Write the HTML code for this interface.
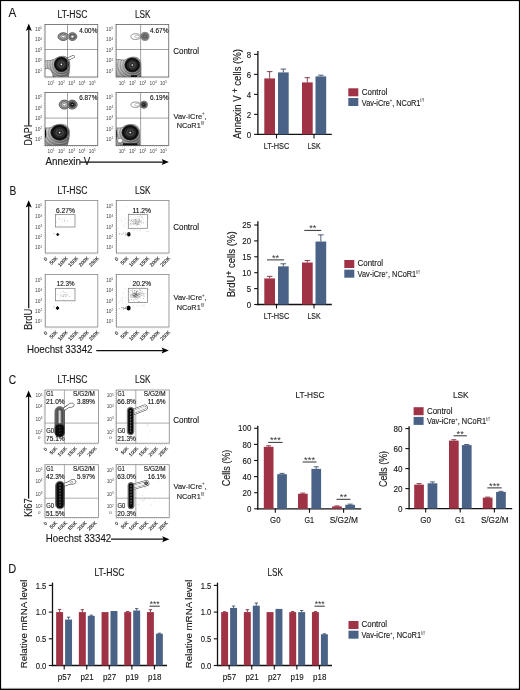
<!DOCTYPE html>
<html lang="en"><head><meta charset="utf-8"><title>Figure</title>
<style>html,body{margin:0;padding:0;background:#fff}svg{display:block;will-change:transform}text{stroke:#1a1718;stroke-width:.13px}text.l,tspan.l{stroke:none}</style></head><body>
<svg width="520" height="690" viewBox="0 0 520 690" font-family='"Liberation Sans", "DejaVu Sans", sans-serif'>
<rect x="0" y="0" width="520" height="690" fill="#fff"/>
<text x="8.6" y="17" font-size="12.5" textLength="7.8" lengthAdjust="spacingAndGlyphs" fill="#1a1718">A</text>
<text x="9.5" y="195" font-size="12.5" textLength="6.8" lengthAdjust="spacingAndGlyphs" fill="#1a1718">B</text>
<text x="8.8" y="383.6" font-size="12.5" textLength="7.4" lengthAdjust="spacingAndGlyphs" fill="#1a1718">C</text>
<text x="8.2" y="573" font-size="12.5" textLength="8.0" lengthAdjust="spacingAndGlyphs" fill="#1a1718">D</text>
<g id="panelA">
<text x="72.5" y="18.4" font-size="10" text-anchor="middle" textLength="30" lengthAdjust="spacingAndGlyphs" fill="#1a1718">LT-HSC</text>
<text x="142.7" y="18.4" font-size="10" text-anchor="middle" textLength="15.5" lengthAdjust="spacingAndGlyphs" fill="#1a1718">LSK</text>
<defs>
<clipPath id="ca00"><rect x="45" y="24.4" width="52.75" height="52.6"/></clipPath>
<clipPath id="ca01"><rect x="45" y="92.5" width="52.75" height="53.0"/></clipPath>
<clipPath id="ca10"><rect x="116.1" y="24.4" width="52.650000000000006" height="52.6"/></clipPath>
<clipPath id="ca11"><rect x="116.1" y="92.5" width="52.650000000000006" height="53.0"/></clipPath>
</defs>
<rect x="45.00" y="24.40" width="52.75" height="52.60" fill="#fff" stroke="#606060" stroke-width="0.8"/>
<line x1="44.1" y1="24.4" x2="44.1" y2="77" stroke="#a5a5a5" stroke-width="1.0" stroke-dasharray="0.5 1.6"/>
<line x1="45" y1="77.9" x2="97.75" y2="77.9" stroke="#a5a5a5" stroke-width="1.0" stroke-dasharray="0.5 1.6"/>
<text x="35" y="30.9" font-size="4.6" textLength="7" lengthAdjust="spacingAndGlyphs" fill="#444" class="l">10<tspan font-size="2.9" dy="-1.7">5</tspan></text>
<text x="35" y="41.400000000000006" font-size="4.6" textLength="7" lengthAdjust="spacingAndGlyphs" fill="#444" class="l">10<tspan font-size="2.9" dy="-1.7">4</tspan></text>
<text x="35" y="51.900000000000006" font-size="4.6" textLength="7" lengthAdjust="spacingAndGlyphs" fill="#444" class="l">10<tspan font-size="2.9" dy="-1.7">3</tspan></text>
<text x="35" y="62.400000000000006" font-size="4.6" textLength="7" lengthAdjust="spacingAndGlyphs" fill="#444" class="l">10<tspan font-size="2.9" dy="-1.7">2</tspan></text>
<text x="35" y="72.9" font-size="4.6" textLength="7" lengthAdjust="spacingAndGlyphs" fill="#444" class="l">10<tspan font-size="2.9" dy="-1.7">1</tspan></text>
<text x="47.6" y="84.60000000000001" font-size="4.6" textLength="7" lengthAdjust="spacingAndGlyphs" fill="#444" class="l">10<tspan font-size="2.9" dy="-1.7">1</tspan></text>
<text x="57.9" y="84.60000000000001" font-size="4.6" textLength="7" lengthAdjust="spacingAndGlyphs" fill="#444" class="l">10<tspan font-size="2.9" dy="-1.7">2</tspan></text>
<text x="68.19999999999999" y="84.60000000000001" font-size="4.6" textLength="7" lengthAdjust="spacingAndGlyphs" fill="#444" class="l">10<tspan font-size="2.9" dy="-1.7">3</tspan></text>
<text x="78.5" y="84.60000000000001" font-size="4.6" textLength="7" lengthAdjust="spacingAndGlyphs" fill="#444" class="l">10<tspan font-size="2.9" dy="-1.7">4</tspan></text>
<text x="88.8" y="84.60000000000001" font-size="4.6" textLength="7" lengthAdjust="spacingAndGlyphs" fill="#444" class="l">10<tspan font-size="2.9" dy="-1.7">5</tspan></text>
<rect x="45.00" y="92.50" width="52.75" height="53.00" fill="#fff" stroke="#606060" stroke-width="0.8"/>
<line x1="44.1" y1="92.5" x2="44.1" y2="145.5" stroke="#a5a5a5" stroke-width="1.0" stroke-dasharray="0.5 1.6"/>
<line x1="45" y1="146.4" x2="97.75" y2="146.4" stroke="#a5a5a5" stroke-width="1.0" stroke-dasharray="0.5 1.6"/>
<text x="35" y="99.0" font-size="4.6" textLength="7" lengthAdjust="spacingAndGlyphs" fill="#444" class="l">10<tspan font-size="2.9" dy="-1.7">5</tspan></text>
<text x="35" y="109.5" font-size="4.6" textLength="7" lengthAdjust="spacingAndGlyphs" fill="#444" class="l">10<tspan font-size="2.9" dy="-1.7">4</tspan></text>
<text x="35" y="120.0" font-size="4.6" textLength="7" lengthAdjust="spacingAndGlyphs" fill="#444" class="l">10<tspan font-size="2.9" dy="-1.7">3</tspan></text>
<text x="35" y="130.5" font-size="4.6" textLength="7" lengthAdjust="spacingAndGlyphs" fill="#444" class="l">10<tspan font-size="2.9" dy="-1.7">2</tspan></text>
<text x="35" y="141.0" font-size="4.6" textLength="7" lengthAdjust="spacingAndGlyphs" fill="#444" class="l">10<tspan font-size="2.9" dy="-1.7">1</tspan></text>
<text x="47.6" y="153.1" font-size="4.6" textLength="7" lengthAdjust="spacingAndGlyphs" fill="#444" class="l">10<tspan font-size="2.9" dy="-1.7">1</tspan></text>
<text x="57.9" y="153.1" font-size="4.6" textLength="7" lengthAdjust="spacingAndGlyphs" fill="#444" class="l">10<tspan font-size="2.9" dy="-1.7">2</tspan></text>
<text x="68.19999999999999" y="153.1" font-size="4.6" textLength="7" lengthAdjust="spacingAndGlyphs" fill="#444" class="l">10<tspan font-size="2.9" dy="-1.7">3</tspan></text>
<text x="78.5" y="153.1" font-size="4.6" textLength="7" lengthAdjust="spacingAndGlyphs" fill="#444" class="l">10<tspan font-size="2.9" dy="-1.7">4</tspan></text>
<text x="88.8" y="153.1" font-size="4.6" textLength="7" lengthAdjust="spacingAndGlyphs" fill="#444" class="l">10<tspan font-size="2.9" dy="-1.7">5</tspan></text>
<rect x="116.10" y="24.40" width="52.65" height="52.60" fill="#fff" stroke="#606060" stroke-width="0.8"/>
<line x1="115.19999999999999" y1="24.4" x2="115.19999999999999" y2="77" stroke="#a5a5a5" stroke-width="1.0" stroke-dasharray="0.5 1.6"/>
<line x1="116.1" y1="77.9" x2="168.75" y2="77.9" stroke="#a5a5a5" stroke-width="1.0" stroke-dasharray="0.5 1.6"/>
<text x="106.1" y="30.9" font-size="4.6" textLength="7" lengthAdjust="spacingAndGlyphs" fill="#444" class="l">10<tspan font-size="2.9" dy="-1.7">5</tspan></text>
<text x="106.1" y="41.400000000000006" font-size="4.6" textLength="7" lengthAdjust="spacingAndGlyphs" fill="#444" class="l">10<tspan font-size="2.9" dy="-1.7">4</tspan></text>
<text x="106.1" y="51.900000000000006" font-size="4.6" textLength="7" lengthAdjust="spacingAndGlyphs" fill="#444" class="l">10<tspan font-size="2.9" dy="-1.7">3</tspan></text>
<text x="106.1" y="62.400000000000006" font-size="4.6" textLength="7" lengthAdjust="spacingAndGlyphs" fill="#444" class="l">10<tspan font-size="2.9" dy="-1.7">2</tspan></text>
<text x="106.1" y="72.9" font-size="4.6" textLength="7" lengthAdjust="spacingAndGlyphs" fill="#444" class="l">10<tspan font-size="2.9" dy="-1.7">1</tspan></text>
<text x="118.69999999999999" y="84.60000000000001" font-size="4.6" textLength="7" lengthAdjust="spacingAndGlyphs" fill="#444" class="l">10<tspan font-size="2.9" dy="-1.7">1</tspan></text>
<text x="129.0" y="84.60000000000001" font-size="4.6" textLength="7" lengthAdjust="spacingAndGlyphs" fill="#444" class="l">10<tspan font-size="2.9" dy="-1.7">2</tspan></text>
<text x="139.29999999999998" y="84.60000000000001" font-size="4.6" textLength="7" lengthAdjust="spacingAndGlyphs" fill="#444" class="l">10<tspan font-size="2.9" dy="-1.7">3</tspan></text>
<text x="149.6" y="84.60000000000001" font-size="4.6" textLength="7" lengthAdjust="spacingAndGlyphs" fill="#444" class="l">10<tspan font-size="2.9" dy="-1.7">4</tspan></text>
<text x="159.9" y="84.60000000000001" font-size="4.6" textLength="7" lengthAdjust="spacingAndGlyphs" fill="#444" class="l">10<tspan font-size="2.9" dy="-1.7">5</tspan></text>
<rect x="116.10" y="92.50" width="52.65" height="53.00" fill="#fff" stroke="#606060" stroke-width="0.8"/>
<line x1="115.19999999999999" y1="92.5" x2="115.19999999999999" y2="145.5" stroke="#a5a5a5" stroke-width="1.0" stroke-dasharray="0.5 1.6"/>
<line x1="116.1" y1="146.4" x2="168.75" y2="146.4" stroke="#a5a5a5" stroke-width="1.0" stroke-dasharray="0.5 1.6"/>
<text x="106.1" y="99.0" font-size="4.6" textLength="7" lengthAdjust="spacingAndGlyphs" fill="#444" class="l">10<tspan font-size="2.9" dy="-1.7">5</tspan></text>
<text x="106.1" y="109.5" font-size="4.6" textLength="7" lengthAdjust="spacingAndGlyphs" fill="#444" class="l">10<tspan font-size="2.9" dy="-1.7">4</tspan></text>
<text x="106.1" y="120.0" font-size="4.6" textLength="7" lengthAdjust="spacingAndGlyphs" fill="#444" class="l">10<tspan font-size="2.9" dy="-1.7">3</tspan></text>
<text x="106.1" y="130.5" font-size="4.6" textLength="7" lengthAdjust="spacingAndGlyphs" fill="#444" class="l">10<tspan font-size="2.9" dy="-1.7">2</tspan></text>
<text x="106.1" y="141.0" font-size="4.6" textLength="7" lengthAdjust="spacingAndGlyphs" fill="#444" class="l">10<tspan font-size="2.9" dy="-1.7">1</tspan></text>
<text x="118.69999999999999" y="153.1" font-size="4.6" textLength="7" lengthAdjust="spacingAndGlyphs" fill="#444" class="l">10<tspan font-size="2.9" dy="-1.7">1</tspan></text>
<text x="129.0" y="153.1" font-size="4.6" textLength="7" lengthAdjust="spacingAndGlyphs" fill="#444" class="l">10<tspan font-size="2.9" dy="-1.7">2</tspan></text>
<text x="139.29999999999998" y="153.1" font-size="4.6" textLength="7" lengthAdjust="spacingAndGlyphs" fill="#444" class="l">10<tspan font-size="2.9" dy="-1.7">3</tspan></text>
<text x="149.6" y="153.1" font-size="4.6" textLength="7" lengthAdjust="spacingAndGlyphs" fill="#444" class="l">10<tspan font-size="2.9" dy="-1.7">4</tspan></text>
<text x="159.9" y="153.1" font-size="4.6" textLength="7" lengthAdjust="spacingAndGlyphs" fill="#444" class="l">10<tspan font-size="2.9" dy="-1.7">5</tspan></text>
<g clip-path="url(#ca00)">
<line x1="64.75" y1="60.66" x2="73.2" y2="56.6" stroke="#444" stroke-width="3.1" stroke-linecap="round"/>
<line x1="64.75" y1="60.66" x2="73.2" y2="56.6" stroke="#fff" stroke-width="2.1" stroke-linecap="round"/>
<defs><linearGradient id="gca00" gradientUnits="userSpaceOnUse" x1="45" y1="57.60000000000001" x2="61.4" y2="77"><stop offset="0" stop-color="#d6d6d6"/><stop offset="0.55" stop-color="#a0a0a0"/><stop offset="1" stop-color="#6a6a6a"/></linearGradient></defs>
<defs><clipPath id="sca00"><path d="M45 60.9 C49 60.50 53.20 60.66 56.38 57.94 Q60.06 55.90 63.41 56.30 Q70.10 57.10 69.80 65.40 Q69.50 72.20 68.3 77 L53.20 77 Q52.20 69.16 47.5 68.4 L45 68.9 Z"/></clipPath></defs>
<path d="M45 60.9 C49 60.50 53.20 60.66 56.38 57.94 Q60.06 55.90 63.41 56.30 Q70.10 57.10 69.80 65.40 Q69.50 72.20 68.3 77 L53.20 77 Q52.20 69.16 47.5 68.4 L45 68.9 Z" fill="url(#gca00)" stroke="#3c3c3c" stroke-width="0.55"/>
<ellipse cx="61.40" cy="64.40" rx="8.04" ry="8.16" fill="none" stroke="#fff" stroke-width="0.45" opacity="0.5" clip-path="url(#sca00)"/>
<ellipse cx="61.40" cy="64.40" rx="9.11" ry="9.25" fill="none" stroke="#333" stroke-width="0.45" opacity="0.55" clip-path="url(#sca00)"/>
<ellipse cx="61.40" cy="64.40" rx="10.38" ry="10.54" fill="none" stroke="#fff" stroke-width="0.45" opacity="0.6" clip-path="url(#sca00)"/>
<ellipse cx="61.40" cy="64.40" rx="11.52" ry="11.70" fill="none" stroke="#333" stroke-width="0.45" opacity="0.5" clip-path="url(#sca00)"/>
<ellipse cx="61.40" cy="64.40" rx="12.86" ry="13.06" fill="none" stroke="#fff" stroke-width="0.45" opacity="0.6" clip-path="url(#sca00)"/>
<ellipse cx="61.40" cy="64.40" rx="14.20" ry="14.42" fill="none" stroke="#333" stroke-width="0.45" opacity="0.45" clip-path="url(#sca00)"/>
<ellipse cx="61.40" cy="64.40" rx="15.75" ry="15.98" fill="none" stroke="#fff" stroke-width="0.45" opacity="0.5" clip-path="url(#sca00)"/>
<ellipse cx="61.40" cy="64.40" rx="7.37" ry="7.48" fill="#444" stroke="#222" stroke-width="0.4"/>
<ellipse cx="61.40" cy="64.40" rx="6.70" ry="6.80" fill="#0e0e0e" stroke="#000" stroke-width="0.5"/>
<ellipse cx="61.40" cy="64.40" rx="4.82" ry="4.90" fill="#262626" stroke="#4a4a4a" stroke-width="0.35"/>
<ellipse cx="61.40" cy="64.40" rx="3.02" ry="3.06" fill="#303030" stroke="#777" stroke-width="0.4"/>
<circle cx="61.40" cy="64.40" r="0.8" fill="#fff"/>
</g>
<ellipse cx="63.20" cy="36.60" rx="5.20" ry="3.90" fill="#a2a2a2" stroke="#2a2a2a" stroke-width="0.7"/>
<ellipse cx="72.40" cy="36.60" rx="4.40" ry="3.90" fill="#a2a2a2" stroke="#2a2a2a" stroke-width="0.7"/>
<rect x="63.20" y="34.65" width="9.20" height="3.90" fill="#a2a2a2"/>
<ellipse cx="63.20" cy="36.60" rx="3.43" ry="2.57" fill="#c4c4c4" stroke="#333" stroke-width="0.55"/>
<ellipse cx="63.20" cy="36.60" rx="1.56" ry="1.17" fill="#fff" stroke="#444" stroke-width="0.5"/>
<ellipse cx="72.40" cy="36.60" rx="2.99" ry="2.65" fill="#7d7d7d" stroke="#2a2a2a" stroke-width="0.55"/>
<ellipse cx="72.40" cy="36.60" rx="1.50" ry="1.33" fill="#fff" stroke="#444" stroke-width="0.5"/>
<text x="97.3" y="33.2" font-size="6.6" text-anchor="end" textLength="18" lengthAdjust="spacingAndGlyphs" fill="#111" stroke="#111" stroke-width="0.1">4.00%</text>
<g clip-path="url(#ca10)">
<defs><linearGradient id="gca10" gradientUnits="userSpaceOnUse" x1="116.25" y1="58.4" x2="132.3" y2="77"><stop offset="0" stop-color="#d6d6d6"/><stop offset="0.55" stop-color="#a0a0a0"/><stop offset="1" stop-color="#6a6a6a"/></linearGradient></defs>
<defs><clipPath id="sca10"><path d="M116.25 59.5 C120.25 59.10 123.80 61.37 127.05 58.73 Q130.90 56.70 134.40 57.10 Q141.30 57.90 141.00 66.00 Q140.70 72.60 141 77 L116.25 77 Z"/></clipPath></defs>
<path d="M116.25 59.5 C120.25 59.10 123.80 61.37 127.05 58.73 Q130.90 56.70 134.40 57.10 Q141.30 57.90 141.00 66.00 Q140.70 72.60 141 77 L116.25 77 Z" fill="url(#gca10)" stroke="#3c3c3c" stroke-width="0.55"/>
<ellipse cx="132.30" cy="65.00" rx="8.40" ry="7.92" fill="none" stroke="#fff" stroke-width="0.45" opacity="0.5" clip-path="url(#sca10)"/>
<ellipse cx="132.30" cy="65.00" rx="9.52" ry="8.98" fill="none" stroke="#333" stroke-width="0.45" opacity="0.55" clip-path="url(#sca10)"/>
<ellipse cx="132.30" cy="65.00" rx="10.85" ry="10.23" fill="none" stroke="#fff" stroke-width="0.45" opacity="0.6" clip-path="url(#sca10)"/>
<ellipse cx="132.30" cy="65.00" rx="12.04" ry="11.35" fill="none" stroke="#333" stroke-width="0.45" opacity="0.5" clip-path="url(#sca10)"/>
<ellipse cx="132.30" cy="65.00" rx="13.44" ry="12.67" fill="none" stroke="#fff" stroke-width="0.45" opacity="0.6" clip-path="url(#sca10)"/>
<ellipse cx="132.30" cy="65.00" rx="14.84" ry="13.99" fill="none" stroke="#333" stroke-width="0.45" opacity="0.45" clip-path="url(#sca10)"/>
<ellipse cx="132.30" cy="65.00" rx="16.45" ry="15.51" fill="none" stroke="#fff" stroke-width="0.45" opacity="0.5" clip-path="url(#sca10)"/>
<ellipse cx="132.30" cy="65.00" rx="7.70" ry="7.26" fill="#444" stroke="#222" stroke-width="0.4"/>
<ellipse cx="132.30" cy="65.00" rx="7.00" ry="6.60" fill="#0e0e0e" stroke="#000" stroke-width="0.5"/>
<ellipse cx="132.30" cy="65.00" rx="5.04" ry="4.75" fill="#262626" stroke="#4a4a4a" stroke-width="0.35"/>
<ellipse cx="132.30" cy="65.00" rx="3.15" ry="2.97" fill="#303030" stroke="#777" stroke-width="0.4"/>
<circle cx="132.30" cy="65.00" r="0.8" fill="#fff"/>
<rect x="131.00" y="75.20" width="6.00" height="1.80" fill="#111"/>
</g>
<ellipse cx="135.60" cy="36.60" rx="4.70" ry="2.90" fill="#fff" stroke="#444" stroke-width="0.55"/>
<ellipse cx="137.25" cy="36.60" rx="2.35" ry="1.45" fill="#fff" stroke="#666" stroke-width="0.4"/>
<ellipse cx="145.00" cy="36.40" rx="4.10" ry="4.10" fill="#9a9a9a" stroke="#444" stroke-width="0.5"/>
<ellipse cx="145.00" cy="36.40" rx="2.87" ry="2.87" fill="#8a8a8a" stroke="#333" stroke-width="0.45"/>
<ellipse cx="145.00" cy="36.40" rx="1.72" ry="1.72" fill="#666" stroke="#222" stroke-width="0.3"/>
<circle cx="145" cy="36.4" r="0.45" fill="#ddd"/>
<text x="168.6" y="33.2" font-size="6.6" text-anchor="end" textLength="18.6" lengthAdjust="spacingAndGlyphs" fill="#111" stroke="#111" stroke-width="0.1">4.67%</text>
<g clip-path="url(#ca01)">
<defs><linearGradient id="gca01" gradientUnits="userSpaceOnUse" x1="45" y1="125.5" x2="59.6" y2="145.5"><stop offset="0" stop-color="#d6d6d6"/><stop offset="0.55" stop-color="#a0a0a0"/><stop offset="1" stop-color="#6a6a6a"/></linearGradient></defs>
<defs><clipPath id="sca01"><path d="M45 128 C49 127.60 49.90 128.69 53.45 125.85 Q57.96 123.80 62.06 124.20 Q69.80 125.00 69.50 133.60 Q69.20 140.70 67 145.5 L45 145.5 Z"/></clipPath></defs>
<path d="M45 128 C49 127.60 49.90 128.69 53.45 125.85 Q57.96 123.80 62.06 124.20 Q69.80 125.00 69.50 133.60 Q69.20 140.70 67 145.5 L45 145.5 Z" fill="url(#gca01)" stroke="#3c3c3c" stroke-width="0.55"/>
<ellipse cx="59.60" cy="132.60" rx="9.84" ry="8.52" fill="none" stroke="#fff" stroke-width="0.45" opacity="0.5" clip-path="url(#sca01)"/>
<ellipse cx="59.60" cy="132.60" rx="11.15" ry="9.66" fill="none" stroke="#333" stroke-width="0.45" opacity="0.55" clip-path="url(#sca01)"/>
<ellipse cx="59.60" cy="132.60" rx="12.71" ry="11.00" fill="none" stroke="#fff" stroke-width="0.45" opacity="0.6" clip-path="url(#sca01)"/>
<ellipse cx="59.60" cy="132.60" rx="14.10" ry="12.21" fill="none" stroke="#333" stroke-width="0.45" opacity="0.5" clip-path="url(#sca01)"/>
<ellipse cx="59.60" cy="132.60" rx="15.74" ry="13.63" fill="none" stroke="#fff" stroke-width="0.45" opacity="0.6" clip-path="url(#sca01)"/>
<ellipse cx="59.60" cy="132.60" rx="17.38" ry="15.05" fill="none" stroke="#333" stroke-width="0.45" opacity="0.45" clip-path="url(#sca01)"/>
<ellipse cx="59.60" cy="132.60" rx="19.27" ry="16.68" fill="none" stroke="#fff" stroke-width="0.45" opacity="0.5" clip-path="url(#sca01)"/>
<ellipse cx="59.60" cy="132.60" rx="9.02" ry="7.81" fill="#444" stroke="#222" stroke-width="0.4"/>
<ellipse cx="59.60" cy="132.60" rx="8.20" ry="7.10" fill="#0e0e0e" stroke="#000" stroke-width="0.5"/>
<ellipse cx="59.60" cy="132.60" rx="5.90" ry="5.11" fill="#262626" stroke="#4a4a4a" stroke-width="0.35"/>
<ellipse cx="59.60" cy="132.60" rx="3.69" ry="3.19" fill="#303030" stroke="#777" stroke-width="0.4"/>
<circle cx="59.60" cy="132.60" r="0.8" fill="#fff"/>
<path d="M45 128 Q47.56 133.5 45 139 Z" fill="#111"/>
</g>
<ellipse cx="64.40" cy="104.60" rx="5.20" ry="4.50" fill="#a2a2a2" stroke="#2a2a2a" stroke-width="0.7"/>
<ellipse cx="72.20" cy="104.60" rx="5.00" ry="4.50" fill="#a2a2a2" stroke="#2a2a2a" stroke-width="0.7"/>
<rect x="64.40" y="102.35" width="7.80" height="4.50" fill="#a2a2a2"/>
<ellipse cx="64.40" cy="104.60" rx="3.43" ry="2.97" fill="#c4c4c4" stroke="#333" stroke-width="0.55"/>
<ellipse cx="64.40" cy="104.60" rx="1.56" ry="1.35" fill="#fff" stroke="#444" stroke-width="0.5"/>
<ellipse cx="72.20" cy="104.60" rx="3.60" ry="3.24" fill="#555" stroke="#333" stroke-width="0.45"/>
<ellipse cx="72.20" cy="104.60" rx="2.10" ry="1.89" fill="#1a1a1a" stroke="#000" stroke-width="0.3"/>
<circle cx="72.2" cy="104.6" r="0.5" fill="#fff"/>
<text x="97.3" y="100.4" font-size="6.6" text-anchor="end" textLength="18" lengthAdjust="spacingAndGlyphs" fill="#111" stroke="#111" stroke-width="0.1">6.87%</text>
<g clip-path="url(#ca11)">
<defs><linearGradient id="gca11" gradientUnits="userSpaceOnUse" x1="116.25" y1="125.69999999999999" x2="130.2" y2="145.5"><stop offset="0" stop-color="#d6d6d6"/><stop offset="0.55" stop-color="#a0a0a0"/><stop offset="1" stop-color="#6a6a6a"/></linearGradient></defs>
<defs><clipPath id="sca11"><path d="M116.25 128 C120.25 127.60 121.00 128.81 124.42 126.04 Q128.66 124.00 132.51 124.40 Q139.90 125.20 139.60 133.60 Q139.30 140.50 140 145.5 L116.25 145.5 Z"/></clipPath></defs>
<path d="M116.25 128 C120.25 127.60 121.00 128.81 124.42 126.04 Q128.66 124.00 132.51 124.40 Q139.90 125.20 139.60 133.60 Q139.30 140.50 140 145.5 L116.25 145.5 Z" fill="url(#gca11)" stroke="#3c3c3c" stroke-width="0.55"/>
<ellipse cx="130.20" cy="132.60" rx="9.24" ry="8.28" fill="none" stroke="#fff" stroke-width="0.45" opacity="0.5" clip-path="url(#sca11)"/>
<ellipse cx="130.20" cy="132.60" rx="10.47" ry="9.38" fill="none" stroke="#333" stroke-width="0.45" opacity="0.55" clip-path="url(#sca11)"/>
<ellipse cx="130.20" cy="132.60" rx="11.94" ry="10.70" fill="none" stroke="#fff" stroke-width="0.45" opacity="0.6" clip-path="url(#sca11)"/>
<ellipse cx="130.20" cy="132.60" rx="13.24" ry="11.87" fill="none" stroke="#333" stroke-width="0.45" opacity="0.5" clip-path="url(#sca11)"/>
<ellipse cx="130.20" cy="132.60" rx="14.78" ry="13.25" fill="none" stroke="#fff" stroke-width="0.45" opacity="0.6" clip-path="url(#sca11)"/>
<ellipse cx="130.20" cy="132.60" rx="16.32" ry="14.63" fill="none" stroke="#333" stroke-width="0.45" opacity="0.45" clip-path="url(#sca11)"/>
<ellipse cx="130.20" cy="132.60" rx="18.10" ry="16.21" fill="none" stroke="#fff" stroke-width="0.45" opacity="0.5" clip-path="url(#sca11)"/>
<ellipse cx="120.00" cy="140.60" rx="2.60" ry="2.30" fill="#fff" stroke="#555" stroke-width="0.5"/>
<ellipse cx="130.20" cy="132.60" rx="8.47" ry="7.59" fill="#444" stroke="#222" stroke-width="0.4"/>
<ellipse cx="130.20" cy="132.60" rx="7.70" ry="6.90" fill="#0e0e0e" stroke="#000" stroke-width="0.5"/>
<ellipse cx="130.20" cy="132.60" rx="5.54" ry="4.97" fill="#262626" stroke="#4a4a4a" stroke-width="0.35"/>
<ellipse cx="130.20" cy="132.60" rx="3.47" ry="3.11" fill="#303030" stroke="#777" stroke-width="0.4"/>
<circle cx="130.20" cy="132.60" r="0.8" fill="#fff"/>
<path d="M116.25 128.5 Q118.33 134.25 116.25 140 Z" fill="#111"/>
<rect x="123.00" y="143.30" width="14.40" height="2.20" fill="#111"/>
</g>
<ellipse cx="135.60" cy="104.70" rx="4.70" ry="2.70" fill="#fff" stroke="#444" stroke-width="0.55"/>
<ellipse cx="137.25" cy="104.70" rx="2.35" ry="1.35" fill="#fff" stroke="#666" stroke-width="0.4"/>
<ellipse cx="143.90" cy="104.70" rx="3.70" ry="3.70" fill="#9a9a9a" stroke="#444" stroke-width="0.5"/>
<ellipse cx="143.90" cy="104.70" rx="2.59" ry="2.59" fill="#555" stroke="#333" stroke-width="0.45"/>
<ellipse cx="143.90" cy="104.70" rx="1.55" ry="1.55" fill="#151515" stroke="#222" stroke-width="0.3"/>
<circle cx="143.9" cy="104.7" r="0.45" fill="#ddd"/>
<text x="168.6" y="100.4" font-size="6.6" text-anchor="end" textLength="18.6" lengthAdjust="spacingAndGlyphs" fill="#111" stroke="#111" stroke-width="0.1">6.19%</text>
<line x1="67.5" y1="24.4" x2="67.5" y2="77" stroke="#666" stroke-width="0.6"/>
<line x1="45" y1="49.5" x2="97.75" y2="49.5" stroke="#666" stroke-width="0.6"/>
<line x1="67.5" y1="92.5" x2="67.5" y2="145.5" stroke="#666" stroke-width="0.6"/>
<line x1="45" y1="118.1" x2="97.75" y2="118.1" stroke="#666" stroke-width="0.6"/>
<line x1="140.6" y1="24.4" x2="140.6" y2="77" stroke="#666" stroke-width="0.6"/>
<line x1="116.1" y1="49.5" x2="168.75" y2="49.5" stroke="#666" stroke-width="0.6"/>
<line x1="140.6" y1="92.5" x2="140.6" y2="145.5" stroke="#666" stroke-width="0.6"/>
<line x1="116.1" y1="118.1" x2="168.75" y2="118.1" stroke="#666" stroke-width="0.6"/>
<text x="173.2" y="54.2" font-size="8.6" textLength="25.8" lengthAdjust="spacingAndGlyphs" fill="#1a1718">Control</text>
<text x="173.5" y="118.60000000000001" font-size="8" textLength="33.1" lengthAdjust="spacingAndGlyphs" fill="#1a1718">Vav-iCre<tspan font-size="4.5" dy="-3.2" class="l" fill="#222">+</tspan><tspan dy="3.2">,</tspan></text>
<text x="176.7" y="128.3" font-size="8" textLength="27.5" lengthAdjust="spacingAndGlyphs" fill="#1a1718">NCoR1<tspan font-size="4.5" dy="-3.2" class="l" fill="#333">f/f</tspan></text>
<line x1="28.8" y1="125.6" x2="28.8" y2="27.6" stroke="#111" stroke-width="1.25"/>
<path d="M28.8 23.6 L25.8 30.900000000000002 L28.8 29.3 L31.8 30.900000000000002 Z" fill="#000"/>
<text x="32.0" y="145.5" font-size="10.8" textLength="20.6" lengthAdjust="spacingAndGlyphs" transform="rotate(-90 32.0 145.5)" fill="#1a1718">DAPI</text>
<line x1="80" y1="162.0" x2="164.9" y2="162.0" stroke="#111" stroke-width="1.25"/>
<path d="M168.9 162.0 L161.6 159.0 L163.20000000000002 162.0 L161.6 165.0 Z" fill="#000"/>
<text x="45.6" y="164.9" font-size="10.8" textLength="44.6" lengthAdjust="spacingAndGlyphs" fill="#1a1718">Annexin V</text>
<line x1="257.9" y1="51" x2="257.9" y2="135.05" stroke="#111" stroke-width="1.3"/>
<line x1="257.25" y1="134.4" x2="331.8" y2="134.4" stroke="#111" stroke-width="1.3"/>
<line x1="254.2" y1="134.4" x2="257.9" y2="134.4" stroke="#111" stroke-width="1.1"/>
<text x="251.09999999999997" y="137.524" font-size="8.8" text-anchor="end" textLength="4.4" lengthAdjust="spacingAndGlyphs" fill="#1a1718">0</text>
<line x1="254.2" y1="114.4" x2="257.9" y2="114.4" stroke="#111" stroke-width="1.1"/>
<text x="251.09999999999997" y="117.524" font-size="8.8" text-anchor="end" textLength="4.4" lengthAdjust="spacingAndGlyphs" fill="#1a1718">2</text>
<line x1="254.2" y1="94.4" x2="257.9" y2="94.4" stroke="#111" stroke-width="1.1"/>
<text x="251.09999999999997" y="97.524" font-size="8.8" text-anchor="end" textLength="4.4" lengthAdjust="spacingAndGlyphs" fill="#1a1718">4</text>
<line x1="254.2" y1="74.4" x2="257.9" y2="74.4" stroke="#111" stroke-width="1.1"/>
<text x="251.09999999999997" y="77.524" font-size="8.8" text-anchor="end" textLength="4.4" lengthAdjust="spacingAndGlyphs" fill="#1a1718">6</text>
<line x1="254.2" y1="54.400000000000006" x2="257.9" y2="54.400000000000006" stroke="#111" stroke-width="1.1"/>
<text x="251.09999999999997" y="57.52400000000001" font-size="8.8" text-anchor="end" textLength="4.4" lengthAdjust="spacingAndGlyphs" fill="#1a1718">8</text>
<line x1="276.5" y1="134.4" x2="276.5" y2="138.4" stroke="#111" stroke-width="1.1"/>
<line x1="314" y1="134.4" x2="314" y2="138.4" stroke="#111" stroke-width="1.1"/>
<rect x="264.30" y="78.40" width="10.70" height="56.00" fill="#a03245"/>
<line x1="269.65000000000003" y1="78.4" x2="269.65000000000003" y2="71.60000000000001" stroke="#7a2233" stroke-width="0.85"/>
<line x1="266.85" y1="71.60000000000001" x2="272.45000000000005" y2="71.60000000000001" stroke="#7a2233" stroke-width="0.85"/>
<rect x="278.00" y="72.40" width="10.70" height="62.00" fill="#496285"/>
<line x1="283.35" y1="72.4" x2="283.35" y2="69.10000000000001" stroke="#33465f" stroke-width="0.85"/>
<line x1="280.55" y1="69.10000000000001" x2="286.15000000000003" y2="69.10000000000001" stroke="#33465f" stroke-width="0.85"/>
<rect x="302.00" y="82.40" width="10.70" height="52.00" fill="#a03245"/>
<line x1="307.35" y1="82.4" x2="307.35" y2="77.7" stroke="#7a2233" stroke-width="0.85"/>
<line x1="304.55" y1="77.7" x2="310.15000000000003" y2="77.7" stroke="#7a2233" stroke-width="0.85"/>
<rect x="315.50" y="76.40" width="10.70" height="58.00" fill="#496285"/>
<line x1="320.85" y1="76.4" x2="320.85" y2="75.2" stroke="#33465f" stroke-width="0.85"/>
<line x1="318.05" y1="75.2" x2="323.65000000000003" y2="75.2" stroke="#33465f" stroke-width="0.85"/>
<text x="276.5" y="148.8" font-size="8.7" text-anchor="middle" textLength="25.6" lengthAdjust="spacingAndGlyphs" fill="#1a1718">LT-HSC</text>
<text x="314" y="148.8" font-size="8.7" text-anchor="middle" textLength="13.2" lengthAdjust="spacingAndGlyphs" fill="#1a1718">LSK</text>
<text x="241.4" y="94" font-size="10" text-anchor="middle" textLength="90" lengthAdjust="spacingAndGlyphs" transform="rotate(-90 241.4 94)" fill="#1a1718">Annexin V<tspan font-size="8.5" dy="-3.2"> +</tspan><tspan dy="3.2"> cells (%)</tspan></text>
<rect x="348.30" y="88.30" width="10.00" height="8.00" fill="#a03245"/>
<rect x="348.30" y="98.00" width="10.00" height="8.00" fill="#496285"/>
<text x="361.8" y="94.6" font-size="8.5" textLength="25.5" lengthAdjust="spacingAndGlyphs" fill="#1a1718">Control</text>
<text x="361.8" y="105.6" font-size="8.5" textLength="62" lengthAdjust="spacingAndGlyphs" fill="#1a1718">Vav-iCre<tspan font-size="4.8" dy="-3.4" class="l" fill="#222">+</tspan><tspan dy="3.4">, NCoR1</tspan><tspan font-size="4.8" dy="-3.4" class="l" fill="#333">f/f</tspan></text>
</g>
<g id="panelB">
<text x="72.5" y="193.8" font-size="10" text-anchor="middle" textLength="30" lengthAdjust="spacingAndGlyphs" fill="#1a1718">LT-HSC</text>
<text x="142.7" y="193.8" font-size="10" text-anchor="middle" textLength="15.5" lengthAdjust="spacingAndGlyphs" fill="#1a1718">LSK</text>
<rect x="45.30" y="200.50" width="52.50" height="52.50" fill="#fff" stroke="#858585" stroke-width="0.8"/>
<line x1="44.4" y1="200.5" x2="44.4" y2="253" stroke="#a5a5a5" stroke-width="1.0" stroke-dasharray="0.5 1.6"/>
<line x1="45.3" y1="253.9" x2="97.8" y2="253.9" stroke="#a5a5a5" stroke-width="1.0" stroke-dasharray="0.5 1.6"/>
<text x="35.099999999999994" y="207.79999999999998" font-size="4.6" textLength="7" lengthAdjust="spacingAndGlyphs" fill="#444" class="l">10<tspan font-size="2.9" dy="-1.7">5</tspan></text>
<text x="35.099999999999994" y="218.2" font-size="4.6" textLength="7" lengthAdjust="spacingAndGlyphs" fill="#444" class="l">10<tspan font-size="2.9" dy="-1.7">4</tspan></text>
<text x="35.099999999999994" y="228.6" font-size="4.6" textLength="7" lengthAdjust="spacingAndGlyphs" fill="#444" class="l">10<tspan font-size="2.9" dy="-1.7">3</tspan></text>
<text x="35.099999999999994" y="239.0" font-size="4.6" textLength="7" lengthAdjust="spacingAndGlyphs" fill="#444" class="l">10<tspan font-size="2.9" dy="-1.7">2</tspan></text>
<text x="35.099999999999994" y="249.39999999999998" font-size="4.6" textLength="7" lengthAdjust="spacingAndGlyphs" fill="#444" class="l">10<tspan font-size="2.9" dy="-1.7">1</tspan></text>
<text x="47.70" y="259.30" font-size="5.0" fill="#1c1c1c" text-anchor="end" transform="rotate(-45 47.70 259.30)">0</text>
<text x="57.80" y="258.70" font-size="5.0" fill="#1c1c1c" text-anchor="end" transform="rotate(-45 57.80 258.70)">50K</text>
<text x="68.20" y="258.70" font-size="5.0" fill="#1c1c1c" text-anchor="end" transform="rotate(-45 68.20 258.70)">100K</text>
<text x="78.60" y="258.70" font-size="5.0" fill="#1c1c1c" text-anchor="end" transform="rotate(-45 78.60 258.70)">150K</text>
<text x="89.00" y="258.70" font-size="5.0" fill="#1c1c1c" text-anchor="end" transform="rotate(-45 89.00 258.70)">200K</text>
<text x="99.40" y="258.70" font-size="5.0" fill="#1c1c1c" text-anchor="end" transform="rotate(-45 99.40 258.70)">250K</text>
<rect x="45.30" y="274.50" width="52.50" height="52.50" fill="#fff" stroke="#858585" stroke-width="0.8"/>
<line x1="44.4" y1="274.5" x2="44.4" y2="327" stroke="#a5a5a5" stroke-width="1.0" stroke-dasharray="0.5 1.6"/>
<line x1="45.3" y1="327.9" x2="97.8" y2="327.9" stroke="#a5a5a5" stroke-width="1.0" stroke-dasharray="0.5 1.6"/>
<text x="35.099999999999994" y="281.8" font-size="4.6" textLength="7" lengthAdjust="spacingAndGlyphs" fill="#444" class="l">10<tspan font-size="2.9" dy="-1.7">5</tspan></text>
<text x="35.099999999999994" y="292.2" font-size="4.6" textLength="7" lengthAdjust="spacingAndGlyphs" fill="#444" class="l">10<tspan font-size="2.9" dy="-1.7">4</tspan></text>
<text x="35.099999999999994" y="302.6" font-size="4.6" textLength="7" lengthAdjust="spacingAndGlyphs" fill="#444" class="l">10<tspan font-size="2.9" dy="-1.7">3</tspan></text>
<text x="35.099999999999994" y="313.0" font-size="4.6" textLength="7" lengthAdjust="spacingAndGlyphs" fill="#444" class="l">10<tspan font-size="2.9" dy="-1.7">2</tspan></text>
<text x="35.099999999999994" y="323.40000000000003" font-size="4.6" textLength="7" lengthAdjust="spacingAndGlyphs" fill="#444" class="l">10<tspan font-size="2.9" dy="-1.7">1</tspan></text>
<text x="47.70" y="333.30" font-size="5.0" fill="#1c1c1c" text-anchor="end" transform="rotate(-45 47.70 333.30)">0</text>
<text x="57.80" y="332.70" font-size="5.0" fill="#1c1c1c" text-anchor="end" transform="rotate(-45 57.80 332.70)">50K</text>
<text x="68.20" y="332.70" font-size="5.0" fill="#1c1c1c" text-anchor="end" transform="rotate(-45 68.20 332.70)">100K</text>
<text x="78.60" y="332.70" font-size="5.0" fill="#1c1c1c" text-anchor="end" transform="rotate(-45 78.60 332.70)">150K</text>
<text x="89.00" y="332.70" font-size="5.0" fill="#1c1c1c" text-anchor="end" transform="rotate(-45 89.00 332.70)">200K</text>
<text x="99.40" y="332.70" font-size="5.0" fill="#1c1c1c" text-anchor="end" transform="rotate(-45 99.40 332.70)">250K</text>
<rect x="116.40" y="200.50" width="52.60" height="52.50" fill="#fff" stroke="#858585" stroke-width="0.8"/>
<line x1="115.5" y1="200.5" x2="115.5" y2="253" stroke="#a5a5a5" stroke-width="1.0" stroke-dasharray="0.5 1.6"/>
<line x1="116.4" y1="253.9" x2="169.0" y2="253.9" stroke="#a5a5a5" stroke-width="1.0" stroke-dasharray="0.5 1.6"/>
<text x="106.2" y="207.79999999999998" font-size="4.6" textLength="7" lengthAdjust="spacingAndGlyphs" fill="#444" class="l">10<tspan font-size="2.9" dy="-1.7">5</tspan></text>
<text x="106.2" y="218.2" font-size="4.6" textLength="7" lengthAdjust="spacingAndGlyphs" fill="#444" class="l">10<tspan font-size="2.9" dy="-1.7">4</tspan></text>
<text x="106.2" y="228.6" font-size="4.6" textLength="7" lengthAdjust="spacingAndGlyphs" fill="#444" class="l">10<tspan font-size="2.9" dy="-1.7">3</tspan></text>
<text x="106.2" y="239.0" font-size="4.6" textLength="7" lengthAdjust="spacingAndGlyphs" fill="#444" class="l">10<tspan font-size="2.9" dy="-1.7">2</tspan></text>
<text x="106.2" y="249.39999999999998" font-size="4.6" textLength="7" lengthAdjust="spacingAndGlyphs" fill="#444" class="l">10<tspan font-size="2.9" dy="-1.7">1</tspan></text>
<text x="118.80" y="259.30" font-size="5.0" fill="#1c1c1c" text-anchor="end" transform="rotate(-45 118.80 259.30)">0</text>
<text x="128.90" y="258.70" font-size="5.0" fill="#1c1c1c" text-anchor="end" transform="rotate(-45 128.90 258.70)">50K</text>
<text x="139.30" y="258.70" font-size="5.0" fill="#1c1c1c" text-anchor="end" transform="rotate(-45 139.30 258.70)">100K</text>
<text x="149.70" y="258.70" font-size="5.0" fill="#1c1c1c" text-anchor="end" transform="rotate(-45 149.70 258.70)">150K</text>
<text x="160.10" y="258.70" font-size="5.0" fill="#1c1c1c" text-anchor="end" transform="rotate(-45 160.10 258.70)">200K</text>
<text x="170.50" y="258.70" font-size="5.0" fill="#1c1c1c" text-anchor="end" transform="rotate(-45 170.50 258.70)">250K</text>
<rect x="116.40" y="274.50" width="52.60" height="52.50" fill="#fff" stroke="#858585" stroke-width="0.8"/>
<line x1="115.5" y1="274.5" x2="115.5" y2="327" stroke="#a5a5a5" stroke-width="1.0" stroke-dasharray="0.5 1.6"/>
<line x1="116.4" y1="327.9" x2="169.0" y2="327.9" stroke="#a5a5a5" stroke-width="1.0" stroke-dasharray="0.5 1.6"/>
<text x="106.2" y="281.8" font-size="4.6" textLength="7" lengthAdjust="spacingAndGlyphs" fill="#444" class="l">10<tspan font-size="2.9" dy="-1.7">5</tspan></text>
<text x="106.2" y="292.2" font-size="4.6" textLength="7" lengthAdjust="spacingAndGlyphs" fill="#444" class="l">10<tspan font-size="2.9" dy="-1.7">4</tspan></text>
<text x="106.2" y="302.6" font-size="4.6" textLength="7" lengthAdjust="spacingAndGlyphs" fill="#444" class="l">10<tspan font-size="2.9" dy="-1.7">3</tspan></text>
<text x="106.2" y="313.0" font-size="4.6" textLength="7" lengthAdjust="spacingAndGlyphs" fill="#444" class="l">10<tspan font-size="2.9" dy="-1.7">2</tspan></text>
<text x="106.2" y="323.40000000000003" font-size="4.6" textLength="7" lengthAdjust="spacingAndGlyphs" fill="#444" class="l">10<tspan font-size="2.9" dy="-1.7">1</tspan></text>
<text x="118.80" y="333.30" font-size="5.0" fill="#1c1c1c" text-anchor="end" transform="rotate(-45 118.80 333.30)">0</text>
<text x="128.90" y="332.70" font-size="5.0" fill="#1c1c1c" text-anchor="end" transform="rotate(-45 128.90 332.70)">50K</text>
<text x="139.30" y="332.70" font-size="5.0" fill="#1c1c1c" text-anchor="end" transform="rotate(-45 139.30 332.70)">100K</text>
<text x="149.70" y="332.70" font-size="5.0" fill="#1c1c1c" text-anchor="end" transform="rotate(-45 149.70 332.70)">150K</text>
<text x="160.10" y="332.70" font-size="5.0" fill="#1c1c1c" text-anchor="end" transform="rotate(-45 160.10 332.70)">200K</text>
<text x="170.50" y="332.70" font-size="5.0" fill="#1c1c1c" text-anchor="end" transform="rotate(-45 170.50 332.70)">250K</text>
<rect x="55.50" y="214.50" width="19.50" height="12.50" fill="none" stroke="#777" stroke-width="0.7"/>
<circle cx="62.0" cy="221.5" r="0.35" fill="#999"/>
<circle cx="62.1" cy="219.1" r="0.35" fill="#999"/>
<circle cx="59.3" cy="219.4" r="0.35" fill="#999"/>
<circle cx="67.4" cy="221.3" r="0.35" fill="#999"/>
<circle cx="67.1" cy="220.7" r="0.35" fill="#999"/>
<circle cx="64.6" cy="220.6" r="0.35" fill="#999"/>
<circle cx="56.3" cy="222.6" r="0.35" fill="#999"/>
<circle cx="65.0" cy="221.5" r="0.35" fill="#999"/>
<circle cx="56.2" cy="214.8" r="0.35" fill="#999"/>
<circle cx="59.4" cy="218.6" r="0.35" fill="#999"/>
<circle cx="64.2" cy="219.9" r="0.35" fill="#999"/>
<circle cx="65.1" cy="218.1" r="0.35" fill="#999"/>
<circle cx="64.2" cy="221.2" r="0.35" fill="#999"/>
<circle cx="60.4" cy="225.2" r="0.35" fill="#999"/>
<path d="M57.7 233 L59 234.5 L57.7 236 L56.4 234.5 Z" fill="#000" stroke="#000" stroke-width="0.5" stroke-linejoin="round"/>
<circle cx="56.4" cy="235.0" r="0.35" fill="#999"/>
<circle cx="53.4" cy="233.4" r="0.35" fill="#999"/>
<circle cx="54.1" cy="233.9" r="0.35" fill="#999"/>
<circle cx="56.6" cy="234.2" r="0.35" fill="#999"/>
<circle cx="53.9" cy="233.2" r="0.35" fill="#999"/>
<text x="65.4" y="212.7" font-size="6.6" text-anchor="middle" textLength="19" lengthAdjust="spacingAndGlyphs" fill="#111" stroke="#111" stroke-width="0.1">6.27%</text>
<rect x="128.30" y="214.50" width="19.20" height="13.80" fill="none" stroke="#777" stroke-width="0.7"/>
<circle cx="134.8" cy="224.7" r="0.35" fill="#999"/>
<circle cx="133.6" cy="221.7" r="0.35" fill="#999"/>
<circle cx="138.8" cy="216.5" r="0.35" fill="#999"/>
<circle cx="137.2" cy="224.9" r="0.35" fill="#999"/>
<circle cx="128.5" cy="220.0" r="0.35" fill="#999"/>
<circle cx="136.6" cy="218.5" r="0.35" fill="#999"/>
<circle cx="139.1" cy="220.8" r="0.35" fill="#999"/>
<circle cx="130.8" cy="223.5" r="0.35" fill="#999"/>
<circle cx="139.8" cy="223.8" r="0.35" fill="#999"/>
<circle cx="143.1" cy="222.1" r="0.35" fill="#999"/>
<circle cx="137.5" cy="217.1" r="0.35" fill="#999"/>
<circle cx="139.6" cy="219.2" r="0.35" fill="#999"/>
<circle cx="135.1" cy="217.2" r="0.35" fill="#999"/>
<circle cx="132.9" cy="219.4" r="0.35" fill="#999"/>
<circle cx="142.4" cy="214.9" r="0.35" fill="#999"/>
<circle cx="130.9" cy="221.7" r="0.35" fill="#999"/>
<circle cx="143.1" cy="222.7" r="0.35" fill="#999"/>
<circle cx="129.0" cy="213.4" r="0.35" fill="#999"/>
<circle cx="138.5" cy="218.8" r="0.35" fill="#999"/>
<circle cx="132.3" cy="223.9" r="0.35" fill="#999"/>
<circle cx="141.6" cy="221.5" r="0.35" fill="#999"/>
<circle cx="138.0" cy="222.3" r="0.35" fill="#999"/>
<circle cx="143.7" cy="222.9" r="0.35" fill="#999"/>
<circle cx="139.2" cy="222.6" r="0.35" fill="#999"/>
<circle cx="130.4" cy="224.8" r="0.35" fill="#999"/>
<circle cx="141.0" cy="222.6" r="0.35" fill="#999"/>
<circle cx="128.7" cy="219.1" r="0.35" fill="#999"/>
<circle cx="140.5" cy="215.6" r="0.35" fill="#999"/>
<circle cx="136.2" cy="224.1" r="0.35" fill="#999"/>
<circle cx="131.5" cy="225.8" r="0.35" fill="#999"/>
<circle cx="139.3" cy="220.5" r="0.35" fill="#999"/>
<circle cx="138.4" cy="222.9" r="0.35" fill="#999"/>
<circle cx="137.5" cy="224.4" r="0.35" fill="#999"/>
<circle cx="134.2" cy="219.8" r="0.35" fill="#999"/>
<circle cx="141.4" cy="221.1" r="0.35" fill="#999"/>
<circle cx="133.3" cy="223.8" r="0.35" fill="#999"/>
<circle cx="143.2" cy="219.7" r="0.35" fill="#999"/>
<circle cx="131.2" cy="220.6" r="0.35" fill="#999"/>
<circle cx="136.4" cy="220.1" r="0.35" fill="#999"/>
<circle cx="142.9" cy="217.9" r="0.35" fill="#999"/>
<circle cx="142.3" cy="217.2" r="0.35" fill="#999"/>
<circle cx="133.7" cy="222.9" r="0.35" fill="#999"/>
<circle cx="141.7" cy="223.6" r="0.35" fill="#999"/>
<circle cx="138.4" cy="221.4" r="0.35" fill="#999"/>
<circle cx="137.6" cy="222.7" r="0.35" fill="#999"/>
<circle cx="136.3" cy="221.8" r="0.35" fill="#999"/>
<circle cx="139.4" cy="221.0" r="0.35" fill="#999"/>
<circle cx="140.2" cy="222.7" r="0.35" fill="#999"/>
<circle cx="145.4" cy="222.0" r="0.35" fill="#999"/>
<circle cx="135.2" cy="219.9" r="0.35" fill="#999"/>
<circle cx="136.9" cy="223.8" r="0.35" fill="#999"/>
<circle cx="135.6" cy="222.2" r="0.35" fill="#999"/>
<circle cx="144.7" cy="213.3" r="0.35" fill="#999"/>
<circle cx="132.3" cy="221.7" r="0.35" fill="#999"/>
<circle cx="138.7" cy="221.7" r="0.35" fill="#999"/>
<circle cx="135.2" cy="223.0" r="0.35" fill="#999"/>
<circle cx="138.2" cy="219.4" r="0.35" fill="#999"/>
<circle cx="147.2" cy="222.1" r="0.35" fill="#999"/>
<circle cx="134.7" cy="220.7" r="0.35" fill="#999"/>
<circle cx="136.1" cy="220.8" r="0.35" fill="#999"/>
<circle cx="125.5" cy="219.5" r="0.35" fill="#999"/>
<circle cx="141.2" cy="217.5" r="0.35" fill="#999"/>
<circle cx="136.7" cy="223.9" r="0.35" fill="#999"/>
<circle cx="140.6" cy="225.5" r="0.35" fill="#999"/>
<circle cx="129.9" cy="219.9" r="0.35" fill="#999"/>
<circle cx="135.6" cy="222.9" r="0.35" fill="#999"/>
<circle cx="141.6" cy="213.0" r="0.35" fill="#999"/>
<circle cx="141.6" cy="216.7" r="0.35" fill="#999"/>
<circle cx="139.9" cy="216.5" r="0.35" fill="#999"/>
<circle cx="137.7" cy="224.6" r="0.35" fill="#999"/>
<circle cx="136.4" cy="221.6" r="0.35" fill="#999"/>
<circle cx="140.3" cy="221.4" r="0.35" fill="#999"/>
<circle cx="136.6" cy="225.6" r="0.35" fill="#999"/>
<circle cx="141.4" cy="220.1" r="0.35" fill="#999"/>
<circle cx="148.5" cy="217.6" r="0.35" fill="#999"/>
<circle cx="140.8" cy="220.2" r="0.35" fill="#999"/>
<circle cx="137.6" cy="223.1" r="0.35" fill="#999"/>
<circle cx="137.9" cy="222.9" r="0.35" fill="#999"/>
<circle cx="130.6" cy="216.5" r="0.35" fill="#999"/>
<circle cx="139.6" cy="218.1" r="0.35" fill="#999"/>
<circle cx="133.0" cy="218.9" r="0.35" fill="#777"/>
<circle cx="138.5" cy="222.8" r="0.35" fill="#777"/>
<circle cx="139.0" cy="219.8" r="0.35" fill="#777"/>
<circle cx="135.5" cy="219.4" r="0.35" fill="#777"/>
<circle cx="137.3" cy="224.4" r="0.35" fill="#777"/>
<circle cx="133.4" cy="224.3" r="0.35" fill="#777"/>
<circle cx="137.9" cy="221.2" r="0.35" fill="#777"/>
<circle cx="130.8" cy="224.0" r="0.35" fill="#777"/>
<circle cx="135.3" cy="220.4" r="0.35" fill="#777"/>
<circle cx="136.5" cy="222.2" r="0.35" fill="#777"/>
<circle cx="139.1" cy="219.7" r="0.35" fill="#777"/>
<circle cx="138.2" cy="224.2" r="0.35" fill="#777"/>
<circle cx="139.0" cy="221.2" r="0.35" fill="#777"/>
<circle cx="133.7" cy="223.3" r="0.35" fill="#777"/>
<circle cx="135.8" cy="221.7" r="0.35" fill="#777"/>
<circle cx="138.9" cy="221.0" r="0.35" fill="#777"/>
<circle cx="130.0" cy="220.8" r="0.35" fill="#777"/>
<circle cx="131.1" cy="223.0" r="0.35" fill="#777"/>
<circle cx="136.3" cy="220.4" r="0.35" fill="#777"/>
<circle cx="135.5" cy="223.0" r="0.35" fill="#777"/>
<circle cx="135.7" cy="223.9" r="0.35" fill="#777"/>
<circle cx="135.4" cy="223.4" r="0.35" fill="#777"/>
<circle cx="139.1" cy="224.4" r="0.35" fill="#777"/>
<circle cx="133.9" cy="223.1" r="0.35" fill="#777"/>
<circle cx="131.0" cy="219.5" r="0.35" fill="#777"/>
<circle cx="130.8" cy="223.4" r="0.35" fill="#777"/>
<circle cx="132.5" cy="221.5" r="0.35" fill="#777"/>
<circle cx="135.0" cy="221.4" r="0.35" fill="#777"/>
<circle cx="134.1" cy="221.9" r="0.35" fill="#777"/>
<circle cx="139.8" cy="221.6" r="0.35" fill="#777"/>
<circle cx="136.8" cy="223.3" r="0.35" fill="#777"/>
<circle cx="135.0" cy="219.2" r="0.35" fill="#777"/>
<circle cx="134.2" cy="223.4" r="0.35" fill="#777"/>
<circle cx="131.5" cy="220.4" r="0.35" fill="#777"/>
<circle cx="137.9" cy="222.9" r="0.35" fill="#777"/>
<circle cx="135.5" cy="222.9" r="0.35" fill="#777"/>
<circle cx="135.9" cy="219.4" r="0.35" fill="#777"/>
<circle cx="131.7" cy="220.3" r="0.35" fill="#777"/>
<circle cx="137.7" cy="220.5" r="0.35" fill="#777"/>
<circle cx="133.3" cy="220.1" r="0.35" fill="#777"/>
<ellipse cx="128.8" cy="234.3" rx="1.7" ry="2.2" fill="#000"/>
<circle cx="121.1" cy="233.9" r="0.35" fill="#777"/>
<circle cx="121.9" cy="234.3" r="0.35" fill="#777"/>
<circle cx="119.3" cy="234.2" r="0.35" fill="#777"/>
<circle cx="123.1" cy="232.6" r="0.35" fill="#777"/>
<circle cx="126.1" cy="233.8" r="0.35" fill="#777"/>
<circle cx="119.6" cy="233.4" r="0.35" fill="#777"/>
<circle cx="125.1" cy="233.7" r="0.35" fill="#777"/>
<circle cx="126.2" cy="234.5" r="0.35" fill="#777"/>
<circle cx="126.0" cy="234.2" r="0.35" fill="#777"/>
<circle cx="127.4" cy="234.5" r="0.35" fill="#777"/>
<circle cx="125.5" cy="232.5" r="0.35" fill="#777"/>
<circle cx="126.5" cy="234.9" r="0.35" fill="#777"/>
<circle cx="123.8" cy="233.7" r="0.35" fill="#777"/>
<circle cx="128.8" cy="232.8" r="0.35" fill="#777"/>
<circle cx="125.5" cy="235.7" r="0.35" fill="#777"/>
<circle cx="122.5" cy="234.5" r="0.35" fill="#777"/>
<circle cx="128.7" cy="233.9" r="0.35" fill="#777"/>
<circle cx="125.7" cy="234.6" r="0.35" fill="#777"/>
<circle cx="121.3" cy="221.5" r="0.35" fill="#aaa"/>
<circle cx="124.9" cy="227.0" r="0.35" fill="#aaa"/>
<circle cx="123.9" cy="220.8" r="0.35" fill="#aaa"/>
<circle cx="121.0" cy="219.8" r="0.35" fill="#aaa"/>
<circle cx="126.7" cy="222.6" r="0.35" fill="#aaa"/>
<circle cx="121.4" cy="217.0" r="0.35" fill="#aaa"/>
<circle cx="132.0" cy="228.8" r="0.35" fill="#aaa"/>
<circle cx="125.9" cy="206.4" r="0.35" fill="#aaa"/>
<circle cx="125.9" cy="224.9" r="0.35" fill="#aaa"/>
<circle cx="129.1" cy="224.6" r="0.35" fill="#aaa"/>
<circle cx="123.8" cy="225.1" r="0.35" fill="#aaa"/>
<circle cx="118.2" cy="228.2" r="0.35" fill="#aaa"/>
<circle cx="125.0" cy="217.8" r="0.35" fill="#aaa"/>
<circle cx="128.0" cy="232.9" r="0.35" fill="#aaa"/>
<circle cx="131.0" cy="229.0" r="0.35" fill="#aaa"/>
<circle cx="139.5" cy="230.3" r="0.35" fill="#aaa"/>
<circle cx="136.0" cy="228.5" r="0.35" fill="#aaa"/>
<circle cx="148.6" cy="231.6" r="0.35" fill="#aaa"/>
<circle cx="132.0" cy="228.0" r="0.35" fill="#aaa"/>
<circle cx="146.5" cy="231.5" r="0.35" fill="#aaa"/>
<circle cx="147.1" cy="231.2" r="0.35" fill="#aaa"/>
<circle cx="133.6" cy="230.4" r="0.35" fill="#aaa"/>
<circle cx="127.2" cy="228.9" r="0.35" fill="#aaa"/>
<circle cx="137.7" cy="230.8" r="0.35" fill="#aaa"/>
<circle cx="134.4" cy="229.8" r="0.35" fill="#aaa"/>
<circle cx="140.3" cy="230.6" r="0.35" fill="#aaa"/>
<text x="141.8" y="212.8" font-size="6.6" text-anchor="middle" textLength="18.6" lengthAdjust="spacingAndGlyphs" fill="#111" stroke="#111" stroke-width="0.1">11.2%</text>
<rect x="55.50" y="288.30" width="19.50" height="12.50" fill="none" stroke="#777" stroke-width="0.7"/>
<circle cx="66.2" cy="295.0" r="0.35" fill="#999"/>
<circle cx="62.9" cy="296.2" r="0.35" fill="#999"/>
<circle cx="64.2" cy="292.7" r="0.35" fill="#999"/>
<circle cx="61.9" cy="294.5" r="0.35" fill="#999"/>
<circle cx="63.6" cy="294.8" r="0.35" fill="#999"/>
<circle cx="64.0" cy="294.9" r="0.35" fill="#999"/>
<circle cx="63.5" cy="291.7" r="0.35" fill="#999"/>
<circle cx="65.4" cy="296.8" r="0.35" fill="#999"/>
<circle cx="65.5" cy="294.1" r="0.35" fill="#999"/>
<circle cx="65.5" cy="292.4" r="0.35" fill="#999"/>
<circle cx="57.6" cy="294.6" r="0.35" fill="#999"/>
<circle cx="60.8" cy="296.1" r="0.35" fill="#999"/>
<circle cx="60.3" cy="288.7" r="0.35" fill="#999"/>
<circle cx="60.5" cy="298.0" r="0.35" fill="#999"/>
<circle cx="62.7" cy="291.5" r="0.35" fill="#999"/>
<circle cx="61.4" cy="295.6" r="0.35" fill="#999"/>
<circle cx="65.7" cy="294.9" r="0.35" fill="#999"/>
<circle cx="69.0" cy="296.1" r="0.35" fill="#999"/>
<circle cx="63.9" cy="295.8" r="0.35" fill="#999"/>
<circle cx="69.6" cy="296.6" r="0.35" fill="#999"/>
<circle cx="67.5" cy="292.1" r="0.35" fill="#999"/>
<circle cx="63.5" cy="296.1" r="0.35" fill="#999"/>
<circle cx="63.0" cy="296.9" r="0.35" fill="#999"/>
<circle cx="66.0" cy="296.5" r="0.35" fill="#999"/>
<circle cx="63.3" cy="300.1" r="0.35" fill="#999"/>
<circle cx="68.2" cy="294.0" r="0.35" fill="#999"/>
<circle cx="64.3" cy="300.2" r="0.35" fill="#999"/>
<circle cx="62.8" cy="296.4" r="0.35" fill="#999"/>
<circle cx="67.3" cy="294.5" r="0.35" fill="#999"/>
<circle cx="60.0" cy="294.9" r="0.35" fill="#999"/>
<circle cx="65.2" cy="297.0" r="0.35" fill="#999"/>
<circle cx="66.7" cy="294.6" r="0.35" fill="#999"/>
<circle cx="66.9" cy="295.7" r="0.35" fill="#999"/>
<circle cx="64.7" cy="294.6" r="0.35" fill="#999"/>
<circle cx="63.2" cy="296.0" r="0.35" fill="#999"/>
<circle cx="60.4" cy="293.1" r="0.35" fill="#999"/>
<path d="M57.5 306.4 L58.9 308.1 L57.5 309.8 L56.1 308.1 Z" fill="#000" stroke="#000" stroke-width="1.0" stroke-linejoin="round"/>
<circle cx="54.5" cy="306.8" r="0.35" fill="#999"/>
<circle cx="53.6" cy="306.4" r="0.35" fill="#999"/>
<circle cx="53.1" cy="308.5" r="0.35" fill="#999"/>
<circle cx="55.6" cy="308.0" r="0.35" fill="#999"/>
<circle cx="54.0" cy="306.9" r="0.35" fill="#999"/>
<circle cx="75.1" cy="306.0" r="0.35" fill="#bbb"/>
<circle cx="71.5" cy="303.2" r="0.35" fill="#bbb"/>
<circle cx="65.1" cy="301.4" r="0.35" fill="#bbb"/>
<circle cx="69.9" cy="306.9" r="0.35" fill="#bbb"/>
<circle cx="56.5" cy="304.9" r="0.35" fill="#bbb"/>
<text x="65.6" y="285.9" font-size="6.6" text-anchor="middle" textLength="17.8" lengthAdjust="spacingAndGlyphs" fill="#111" stroke="#111" stroke-width="0.1">12.3%</text>
<rect x="128.30" y="288.30" width="19.20" height="14.20" fill="none" stroke="#777" stroke-width="0.7"/>
<circle cx="139.6" cy="289.7" r="0.35" fill="#888"/>
<circle cx="129.3" cy="291.8" r="0.35" fill="#888"/>
<circle cx="134.4" cy="290.8" r="0.35" fill="#888"/>
<circle cx="137.1" cy="295.7" r="0.35" fill="#888"/>
<circle cx="139.7" cy="297.1" r="0.35" fill="#888"/>
<circle cx="143.3" cy="298.5" r="0.35" fill="#888"/>
<circle cx="131.5" cy="293.5" r="0.35" fill="#888"/>
<circle cx="132.5" cy="291.8" r="0.35" fill="#888"/>
<circle cx="136.7" cy="295.0" r="0.35" fill="#888"/>
<circle cx="139.1" cy="290.2" r="0.35" fill="#888"/>
<circle cx="131.8" cy="294.9" r="0.35" fill="#888"/>
<circle cx="136.2" cy="294.1" r="0.35" fill="#888"/>
<circle cx="136.7" cy="292.7" r="0.35" fill="#888"/>
<circle cx="139.9" cy="296.1" r="0.35" fill="#888"/>
<circle cx="136.6" cy="293.0" r="0.35" fill="#888"/>
<circle cx="136.3" cy="286.8" r="0.35" fill="#888"/>
<circle cx="132.9" cy="295.1" r="0.35" fill="#888"/>
<circle cx="130.7" cy="295.6" r="0.35" fill="#888"/>
<circle cx="137.6" cy="290.9" r="0.35" fill="#888"/>
<circle cx="135.9" cy="294.1" r="0.35" fill="#888"/>
<circle cx="138.9" cy="296.8" r="0.35" fill="#888"/>
<circle cx="136.8" cy="292.4" r="0.35" fill="#888"/>
<circle cx="136.4" cy="294.8" r="0.35" fill="#888"/>
<circle cx="140.1" cy="295.9" r="0.35" fill="#888"/>
<circle cx="134.0" cy="290.9" r="0.35" fill="#888"/>
<circle cx="135.4" cy="292.8" r="0.35" fill="#888"/>
<circle cx="132.3" cy="294.7" r="0.35" fill="#888"/>
<circle cx="134.9" cy="295.3" r="0.35" fill="#888"/>
<circle cx="139.2" cy="293.8" r="0.35" fill="#888"/>
<circle cx="146.8" cy="294.0" r="0.35" fill="#888"/>
<circle cx="141.6" cy="295.4" r="0.35" fill="#888"/>
<circle cx="141.7" cy="287.9" r="0.35" fill="#888"/>
<circle cx="133.8" cy="295.7" r="0.35" fill="#888"/>
<circle cx="139.5" cy="302.0" r="0.35" fill="#888"/>
<circle cx="138.4" cy="298.8" r="0.35" fill="#888"/>
<circle cx="140.2" cy="297.8" r="0.35" fill="#888"/>
<circle cx="139.1" cy="294.5" r="0.35" fill="#888"/>
<circle cx="139.1" cy="291.8" r="0.35" fill="#888"/>
<circle cx="142.0" cy="291.9" r="0.35" fill="#888"/>
<circle cx="138.0" cy="301.4" r="0.35" fill="#888"/>
<circle cx="136.1" cy="295.1" r="0.35" fill="#888"/>
<circle cx="141.9" cy="295.1" r="0.35" fill="#888"/>
<circle cx="133.6" cy="295.8" r="0.35" fill="#888"/>
<circle cx="139.4" cy="297.1" r="0.35" fill="#888"/>
<circle cx="133.8" cy="300.3" r="0.35" fill="#888"/>
<circle cx="144.0" cy="295.1" r="0.35" fill="#888"/>
<circle cx="138.1" cy="293.7" r="0.35" fill="#888"/>
<circle cx="142.9" cy="292.9" r="0.35" fill="#888"/>
<circle cx="139.8" cy="293.6" r="0.35" fill="#888"/>
<circle cx="134.1" cy="297.2" r="0.35" fill="#888"/>
<circle cx="142.6" cy="295.0" r="0.35" fill="#888"/>
<circle cx="134.2" cy="297.4" r="0.35" fill="#888"/>
<circle cx="136.8" cy="295.9" r="0.35" fill="#888"/>
<circle cx="143.4" cy="298.4" r="0.35" fill="#888"/>
<circle cx="134.8" cy="301.9" r="0.35" fill="#888"/>
<circle cx="137.0" cy="297.4" r="0.35" fill="#888"/>
<circle cx="134.3" cy="294.9" r="0.35" fill="#888"/>
<circle cx="129.7" cy="300.4" r="0.35" fill="#888"/>
<circle cx="142.7" cy="291.4" r="0.35" fill="#888"/>
<circle cx="130.7" cy="290.1" r="0.35" fill="#888"/>
<circle cx="141.9" cy="293.6" r="0.35" fill="#888"/>
<circle cx="136.7" cy="294.1" r="0.35" fill="#888"/>
<circle cx="136.5" cy="291.7" r="0.35" fill="#888"/>
<circle cx="137.1" cy="290.7" r="0.35" fill="#888"/>
<circle cx="136.7" cy="295.9" r="0.35" fill="#888"/>
<circle cx="139.0" cy="294.3" r="0.35" fill="#888"/>
<circle cx="133.2" cy="295.5" r="0.35" fill="#888"/>
<circle cx="135.0" cy="299.7" r="0.35" fill="#888"/>
<circle cx="140.2" cy="294.7" r="0.35" fill="#888"/>
<circle cx="135.0" cy="292.9" r="0.35" fill="#888"/>
<circle cx="133.1" cy="293.9" r="0.35" fill="#888"/>
<circle cx="138.2" cy="296.5" r="0.35" fill="#888"/>
<circle cx="139.4" cy="301.3" r="0.35" fill="#888"/>
<circle cx="134.0" cy="295.0" r="0.35" fill="#888"/>
<circle cx="148.7" cy="289.4" r="0.35" fill="#888"/>
<circle cx="134.8" cy="295.5" r="0.35" fill="#888"/>
<circle cx="137.6" cy="296.2" r="0.35" fill="#888"/>
<circle cx="136.0" cy="296.1" r="0.35" fill="#888"/>
<circle cx="137.2" cy="297.3" r="0.35" fill="#888"/>
<circle cx="129.1" cy="292.3" r="0.35" fill="#888"/>
<circle cx="137.0" cy="291.9" r="0.35" fill="#888"/>
<circle cx="132.6" cy="296.9" r="0.35" fill="#888"/>
<circle cx="134.3" cy="296.9" r="0.35" fill="#888"/>
<circle cx="140.1" cy="295.9" r="0.35" fill="#888"/>
<circle cx="139.1" cy="294.7" r="0.35" fill="#888"/>
<circle cx="131.1" cy="294.9" r="0.35" fill="#888"/>
<circle cx="138.9" cy="293.4" r="0.35" fill="#888"/>
<circle cx="136.6" cy="297.2" r="0.35" fill="#888"/>
<circle cx="133.3" cy="296.9" r="0.35" fill="#888"/>
<circle cx="144.8" cy="293.3" r="0.35" fill="#888"/>
<circle cx="137.6" cy="294.5" r="0.35" fill="#888"/>
<circle cx="143.5" cy="295.9" r="0.35" fill="#888"/>
<circle cx="140.8" cy="292.9" r="0.35" fill="#888"/>
<circle cx="136.9" cy="295.0" r="0.35" fill="#888"/>
<circle cx="129.5" cy="299.3" r="0.35" fill="#888"/>
<circle cx="140.8" cy="289.8" r="0.35" fill="#888"/>
<circle cx="140.1" cy="294.6" r="0.35" fill="#888"/>
<circle cx="138.9" cy="296.1" r="0.35" fill="#888"/>
<circle cx="130.7" cy="294.4" r="0.35" fill="#888"/>
<circle cx="143.3" cy="293.3" r="0.35" fill="#888"/>
<circle cx="132.7" cy="290.9" r="0.35" fill="#888"/>
<circle cx="131.9" cy="296.0" r="0.35" fill="#888"/>
<circle cx="144.1" cy="296.3" r="0.35" fill="#888"/>
<circle cx="138.0" cy="301.7" r="0.35" fill="#888"/>
<circle cx="134.8" cy="293.0" r="0.35" fill="#888"/>
<circle cx="139.2" cy="296.6" r="0.35" fill="#888"/>
<circle cx="132.7" cy="291.5" r="0.35" fill="#888"/>
<circle cx="138.2" cy="295.7" r="0.35" fill="#888"/>
<circle cx="131.5" cy="294.4" r="0.35" fill="#888"/>
<circle cx="134.7" cy="296.4" r="0.35" fill="#888"/>
<circle cx="136.5" cy="294.7" r="0.35" fill="#888"/>
<circle cx="135.5" cy="298.2" r="0.35" fill="#888"/>
<circle cx="142.8" cy="293.9" r="0.35" fill="#888"/>
<circle cx="140.6" cy="292.7" r="0.35" fill="#888"/>
<circle cx="137.3" cy="297.2" r="0.35" fill="#888"/>
<circle cx="143.4" cy="293.9" r="0.35" fill="#888"/>
<circle cx="136.7" cy="295.6" r="0.35" fill="#888"/>
<circle cx="130.7" cy="295.0" r="0.35" fill="#888"/>
<circle cx="134.2" cy="296.1" r="0.35" fill="#888"/>
<circle cx="132.3" cy="289.1" r="0.35" fill="#888"/>
<circle cx="135.1" cy="295.0" r="0.35" fill="#555"/>
<circle cx="133.6" cy="296.2" r="0.35" fill="#555"/>
<circle cx="134.3" cy="293.3" r="0.35" fill="#555"/>
<circle cx="136.2" cy="291.5" r="0.35" fill="#555"/>
<circle cx="133.2" cy="294.5" r="0.35" fill="#555"/>
<circle cx="137.2" cy="294.2" r="0.35" fill="#555"/>
<circle cx="135.8" cy="293.3" r="0.35" fill="#555"/>
<circle cx="135.8" cy="297.7" r="0.35" fill="#555"/>
<circle cx="133.2" cy="299.0" r="0.35" fill="#555"/>
<circle cx="133.3" cy="294.5" r="0.35" fill="#555"/>
<circle cx="135.5" cy="296.4" r="0.35" fill="#555"/>
<circle cx="131.8" cy="290.5" r="0.35" fill="#555"/>
<circle cx="136.6" cy="296.0" r="0.35" fill="#555"/>
<circle cx="136.6" cy="299.5" r="0.35" fill="#555"/>
<circle cx="135.5" cy="295.0" r="0.35" fill="#555"/>
<circle cx="137.4" cy="295.2" r="0.35" fill="#555"/>
<circle cx="139.3" cy="292.1" r="0.35" fill="#555"/>
<circle cx="134.0" cy="288.0" r="0.35" fill="#555"/>
<circle cx="137.1" cy="293.8" r="0.35" fill="#555"/>
<circle cx="137.4" cy="298.6" r="0.35" fill="#555"/>
<circle cx="135.0" cy="294.0" r="0.35" fill="#555"/>
<circle cx="133.7" cy="292.9" r="0.35" fill="#555"/>
<circle cx="133.4" cy="295.7" r="0.35" fill="#555"/>
<circle cx="135.1" cy="294.6" r="0.35" fill="#555"/>
<circle cx="134.5" cy="296.2" r="0.35" fill="#555"/>
<circle cx="136.3" cy="294.2" r="0.35" fill="#555"/>
<circle cx="136.7" cy="294.2" r="0.35" fill="#555"/>
<circle cx="132.0" cy="297.3" r="0.35" fill="#555"/>
<circle cx="136.2" cy="292.7" r="0.35" fill="#555"/>
<circle cx="137.8" cy="295.2" r="0.35" fill="#555"/>
<circle cx="130.9" cy="297.6" r="0.35" fill="#555"/>
<circle cx="135.9" cy="296.2" r="0.35" fill="#555"/>
<circle cx="135.5" cy="294.2" r="0.35" fill="#555"/>
<circle cx="131.0" cy="296.3" r="0.35" fill="#555"/>
<circle cx="135.1" cy="294.0" r="0.35" fill="#555"/>
<circle cx="135.9" cy="294.6" r="0.35" fill="#555"/>
<circle cx="136.8" cy="293.8" r="0.35" fill="#555"/>
<circle cx="134.9" cy="290.4" r="0.35" fill="#555"/>
<circle cx="133.9" cy="295.8" r="0.35" fill="#555"/>
<circle cx="138.5" cy="293.8" r="0.35" fill="#555"/>
<circle cx="134.7" cy="297.5" r="0.35" fill="#555"/>
<circle cx="134.2" cy="295.9" r="0.35" fill="#555"/>
<circle cx="139.4" cy="294.6" r="0.35" fill="#555"/>
<circle cx="138.2" cy="293.2" r="0.35" fill="#555"/>
<circle cx="135.5" cy="294.4" r="0.35" fill="#555"/>
<circle cx="135.3" cy="296.6" r="0.35" fill="#555"/>
<circle cx="141.2" cy="293.2" r="0.35" fill="#555"/>
<circle cx="133.5" cy="295.4" r="0.35" fill="#555"/>
<circle cx="132.3" cy="295.4" r="0.35" fill="#555"/>
<circle cx="136.5" cy="294.0" r="0.35" fill="#555"/>
<circle cx="136.4" cy="291.6" r="0.35" fill="#555"/>
<circle cx="137.0" cy="291.6" r="0.35" fill="#555"/>
<circle cx="133.2" cy="293.4" r="0.35" fill="#555"/>
<circle cx="134.0" cy="296.1" r="0.35" fill="#555"/>
<circle cx="135.2" cy="293.7" r="0.35" fill="#555"/>
<circle cx="136.4" cy="297.5" r="0.35" fill="#555"/>
<circle cx="135.0" cy="295.2" r="0.35" fill="#555"/>
<circle cx="138.2" cy="295.0" r="0.35" fill="#555"/>
<circle cx="131.7" cy="299.2" r="0.35" fill="#555"/>
<circle cx="140.7" cy="290.7" r="0.35" fill="#555"/>
<circle cx="134.9" cy="295.3" r="0.35" fill="#555"/>
<circle cx="137.5" cy="295.8" r="0.35" fill="#555"/>
<circle cx="134.3" cy="292.5" r="0.35" fill="#555"/>
<circle cx="135.3" cy="296.5" r="0.35" fill="#555"/>
<circle cx="132.2" cy="292.5" r="0.35" fill="#555"/>
<circle cx="134.9" cy="290.8" r="0.35" fill="#555"/>
<circle cx="134.3" cy="293.7" r="0.35" fill="#555"/>
<circle cx="136.2" cy="293.2" r="0.35" fill="#555"/>
<circle cx="132.7" cy="293.8" r="0.35" fill="#555"/>
<circle cx="134.9" cy="293.2" r="0.35" fill="#555"/>
<ellipse cx="128.6" cy="308" rx="2" ry="2.5" fill="#000"/>
<circle cx="124.0" cy="308.5" r="0.35" fill="#666"/>
<circle cx="126.8" cy="309.2" r="0.35" fill="#666"/>
<circle cx="122.1" cy="307.7" r="0.35" fill="#666"/>
<circle cx="118.0" cy="309.3" r="0.35" fill="#666"/>
<circle cx="122.3" cy="308.0" r="0.35" fill="#666"/>
<circle cx="125.3" cy="307.0" r="0.35" fill="#666"/>
<circle cx="125.1" cy="308.0" r="0.35" fill="#666"/>
<circle cx="119.6" cy="308.2" r="0.35" fill="#666"/>
<circle cx="126.9" cy="306.7" r="0.35" fill="#666"/>
<circle cx="125.9" cy="308.1" r="0.35" fill="#666"/>
<circle cx="125.1" cy="308.3" r="0.35" fill="#666"/>
<circle cx="127.1" cy="307.8" r="0.35" fill="#666"/>
<circle cx="126.1" cy="307.7" r="0.35" fill="#666"/>
<circle cx="125.7" cy="307.4" r="0.35" fill="#666"/>
<circle cx="123.7" cy="309.2" r="0.35" fill="#666"/>
<circle cx="125.1" cy="307.9" r="0.35" fill="#666"/>
<circle cx="121.3" cy="307.4" r="0.35" fill="#666"/>
<circle cx="124.5" cy="308.7" r="0.35" fill="#666"/>
<circle cx="125.0" cy="308.4" r="0.35" fill="#666"/>
<circle cx="123.9" cy="308.9" r="0.35" fill="#666"/>
<circle cx="123.1" cy="307.6" r="0.35" fill="#666"/>
<circle cx="126.1" cy="308.0" r="0.35" fill="#666"/>
<circle cx="123.3" cy="307.6" r="0.35" fill="#666"/>
<circle cx="123.4" cy="308.4" r="0.35" fill="#666"/>
<circle cx="125.1" cy="288.7" r="0.35" fill="#aaa"/>
<circle cx="125.3" cy="297.1" r="0.35" fill="#aaa"/>
<circle cx="121.0" cy="300.6" r="0.35" fill="#aaa"/>
<circle cx="123.2" cy="294.0" r="0.35" fill="#aaa"/>
<circle cx="126.4" cy="303.9" r="0.35" fill="#aaa"/>
<circle cx="121.9" cy="298.6" r="0.35" fill="#aaa"/>
<circle cx="121.4" cy="309.9" r="0.35" fill="#aaa"/>
<circle cx="122.5" cy="303.2" r="0.35" fill="#aaa"/>
<circle cx="122.1" cy="300.9" r="0.35" fill="#aaa"/>
<circle cx="130.7" cy="280.8" r="0.35" fill="#aaa"/>
<circle cx="122.7" cy="299.0" r="0.35" fill="#aaa"/>
<circle cx="123.7" cy="292.0" r="0.35" fill="#aaa"/>
<circle cx="130.5" cy="296.5" r="0.35" fill="#aaa"/>
<circle cx="119.1" cy="301.1" r="0.35" fill="#aaa"/>
<circle cx="118.8" cy="302.9" r="0.35" fill="#aaa"/>
<circle cx="122.3" cy="296.9" r="0.35" fill="#aaa"/>
<circle cx="144.3" cy="305.2" r="0.35" fill="#aaa"/>
<circle cx="131.0" cy="302.5" r="0.35" fill="#aaa"/>
<circle cx="143.9" cy="306.1" r="0.35" fill="#aaa"/>
<circle cx="133.9" cy="306.3" r="0.35" fill="#aaa"/>
<circle cx="140.5" cy="306.0" r="0.35" fill="#aaa"/>
<circle cx="126.7" cy="304.5" r="0.35" fill="#aaa"/>
<circle cx="142.5" cy="306.1" r="0.35" fill="#aaa"/>
<circle cx="142.4" cy="301.3" r="0.35" fill="#aaa"/>
<circle cx="138.8" cy="305.7" r="0.35" fill="#aaa"/>
<circle cx="150.8" cy="303.6" r="0.35" fill="#aaa"/>
<circle cx="136.4" cy="305.1" r="0.35" fill="#aaa"/>
<circle cx="142.4" cy="304.3" r="0.35" fill="#aaa"/>
<text x="141.8" y="285.9" font-size="6.6" text-anchor="middle" textLength="18.6" lengthAdjust="spacingAndGlyphs" fill="#111" stroke="#111" stroke-width="0.1">20.2%</text>
<text x="173.2" y="230.4" font-size="8.6" textLength="25.8" lengthAdjust="spacingAndGlyphs" fill="#1a1718">Control</text>
<text x="173.5" y="299.79999999999995" font-size="8" textLength="33.1" lengthAdjust="spacingAndGlyphs" fill="#1a1718">Vav-iCre<tspan font-size="4.5" dy="-3.2" class="l" fill="#222">+</tspan><tspan dy="3.2">,</tspan></text>
<text x="176.7" y="310.1" font-size="8" textLength="27.5" lengthAdjust="spacingAndGlyphs" fill="#1a1718">NCoR1<tspan font-size="4.5" dy="-3.2" class="l" fill="#333">f/f</tspan></text>
<line x1="28.7" y1="308.3" x2="28.7" y2="204.2" stroke="#111" stroke-width="1.25"/>
<path d="M28.7 200.2 L25.7 207.5 L28.7 205.89999999999998 L31.7 207.5 Z" fill="#000"/>
<text x="32.0" y="330.1" font-size="10.8" textLength="21.4" lengthAdjust="spacingAndGlyphs" transform="rotate(-90 32.0 330.1)" fill="#1a1718">BrdU</text>
<line x1="96.3" y1="350.5" x2="164.8" y2="350.5" stroke="#111" stroke-width="1.25"/>
<path d="M168.8 350.5 L161.5 347.5 L163.10000000000002 350.5 L161.5 353.5 Z" fill="#000"/>
<text x="26.9" y="353.4" font-size="10.8" textLength="65.6" lengthAdjust="spacingAndGlyphs" fill="#1a1718">Hoechst 33342</text>
<line x1="257.9" y1="221.3" x2="257.9" y2="305.15" stroke="#111" stroke-width="1.3"/>
<line x1="257.25" y1="304.5" x2="331.8" y2="304.5" stroke="#111" stroke-width="1.3"/>
<line x1="254.2" y1="304.5" x2="257.9" y2="304.5" stroke="#111" stroke-width="1.1"/>
<text x="251.09999999999997" y="307.624" font-size="8.8" text-anchor="end" textLength="4.4" lengthAdjust="spacingAndGlyphs" fill="#1a1718">0</text>
<line x1="254.2" y1="288.6" x2="257.9" y2="288.6" stroke="#111" stroke-width="1.1"/>
<text x="251.09999999999997" y="291.72400000000005" font-size="8.8" text-anchor="end" textLength="4.4" lengthAdjust="spacingAndGlyphs" fill="#1a1718">5</text>
<line x1="254.2" y1="272.7" x2="257.9" y2="272.7" stroke="#111" stroke-width="1.1"/>
<text x="251.09999999999997" y="275.824" font-size="8.8" text-anchor="end" textLength="8.8" lengthAdjust="spacingAndGlyphs" fill="#1a1718">10</text>
<line x1="254.2" y1="256.8" x2="257.9" y2="256.8" stroke="#111" stroke-width="1.1"/>
<text x="251.09999999999997" y="259.92400000000004" font-size="8.8" text-anchor="end" textLength="8.8" lengthAdjust="spacingAndGlyphs" fill="#1a1718">15</text>
<line x1="254.2" y1="240.9" x2="257.9" y2="240.9" stroke="#111" stroke-width="1.1"/>
<text x="251.09999999999997" y="244.024" font-size="8.8" text-anchor="end" textLength="8.8" lengthAdjust="spacingAndGlyphs" fill="#1a1718">20</text>
<line x1="254.2" y1="225.0" x2="257.9" y2="225.0" stroke="#111" stroke-width="1.1"/>
<text x="251.09999999999997" y="228.124" font-size="8.8" text-anchor="end" textLength="8.8" lengthAdjust="spacingAndGlyphs" fill="#1a1718">25</text>
<line x1="276.5" y1="304.5" x2="276.5" y2="308.5" stroke="#111" stroke-width="1.1"/>
<line x1="314" y1="304.5" x2="314" y2="308.5" stroke="#111" stroke-width="1.1"/>
<rect x="264.30" y="278.42" width="10.70" height="26.08" fill="#a03245"/>
<line x1="269.65000000000003" y1="278.424" x2="269.65000000000003" y2="276.35699999999997" stroke="#7a2233" stroke-width="0.85"/>
<line x1="266.85" y1="276.35699999999997" x2="272.45000000000005" y2="276.35699999999997" stroke="#7a2233" stroke-width="0.85"/>
<rect x="278.00" y="266.34" width="10.70" height="38.16" fill="#496285"/>
<line x1="283.35" y1="266.34" x2="283.35" y2="263.796" stroke="#33465f" stroke-width="0.85"/>
<line x1="280.55" y1="263.796" x2="286.15000000000003" y2="263.796" stroke="#33465f" stroke-width="0.85"/>
<rect x="302.00" y="262.52" width="10.70" height="41.98" fill="#a03245"/>
<line x1="307.35" y1="262.524" x2="307.35" y2="260.457" stroke="#7a2233" stroke-width="0.85"/>
<line x1="304.55" y1="260.457" x2="310.15000000000003" y2="260.457" stroke="#7a2233" stroke-width="0.85"/>
<rect x="315.50" y="241.54" width="10.70" height="62.96" fill="#496285"/>
<line x1="320.85" y1="241.536" x2="320.85" y2="234.858" stroke="#33465f" stroke-width="0.85"/>
<line x1="318.05" y1="234.858" x2="323.65000000000003" y2="234.858" stroke="#33465f" stroke-width="0.85"/>
<line x1="267" y1="259.9" x2="284.1" y2="259.9" stroke="#333" stroke-width="1.0"/>
<text x="275.55" y="260.9" font-size="9.4" text-anchor="middle" fill="#333" class="l">**</text>
<line x1="304.3" y1="230.4" x2="321.3" y2="230.4" stroke="#333" stroke-width="1.0"/>
<text x="312.8" y="231.4" font-size="9.4" text-anchor="middle" fill="#333" class="l">**</text>
<text x="276.5" y="318.8" font-size="8.7" text-anchor="middle" textLength="25.6" lengthAdjust="spacingAndGlyphs" fill="#1a1718">LT-HSC</text>
<text x="314" y="318.8" font-size="8.7" text-anchor="middle" textLength="13.2" lengthAdjust="spacingAndGlyphs" fill="#1a1718">LSK</text>
<text x="234.9" y="264.3" font-size="10" text-anchor="middle" textLength="66" lengthAdjust="spacingAndGlyphs" transform="rotate(-90 234.9 264.3)" fill="#1a1718">BrdU<tspan font-size="8.5" dy="-3.2">+</tspan><tspan dy="3.2"> cells (%)</tspan></text>
<rect x="344.30" y="260.00" width="10.00" height="8.00" fill="#a03245"/>
<rect x="344.30" y="269.70" width="10.00" height="8.00" fill="#496285"/>
<text x="357.6" y="266.3" font-size="8.5" textLength="25.5" lengthAdjust="spacingAndGlyphs" fill="#1a1718">Control</text>
<text x="357.6" y="277" font-size="8.5" textLength="62" lengthAdjust="spacingAndGlyphs" fill="#1a1718">Vav-iCre<tspan font-size="4.8" dy="-3.4" class="l" fill="#222">+</tspan><tspan dy="3.4">, NCoR1</tspan><tspan font-size="4.8" dy="-3.4" class="l" fill="#333">f/f</tspan></text>
</g>
<g id="panelC">
<text x="72.5" y="383" font-size="10" text-anchor="middle" textLength="30" lengthAdjust="spacingAndGlyphs" fill="#1a1718">LT-HSC</text>
<text x="142.7" y="383" font-size="10" text-anchor="middle" textLength="15.5" lengthAdjust="spacingAndGlyphs" fill="#1a1718">LSK</text>
<defs>
<clipPath id="cc00"><rect x="45" y="390" width="53.5" height="53.19999999999999"/></clipPath>
<clipPath id="cc01"><rect x="45" y="464.7" width="53.5" height="52.69999999999999"/></clipPath>
<clipPath id="cc10"><rect x="116.25" y="390" width="53.0" height="53.19999999999999"/></clipPath>
<clipPath id="cc11"><rect x="116.25" y="464.7" width="53.0" height="52.69999999999999"/></clipPath>
</defs>
<rect x="45.00" y="390.00" width="53.50" height="53.20" fill="#fff" stroke="#858585" stroke-width="0.8"/>
<line x1="64.4" y1="390" x2="64.4" y2="443.2" stroke="#777" stroke-width="0.6"/>
<line x1="45" y1="423.1" x2="98.5" y2="423.1" stroke="#777" stroke-width="0.6"/>
<line x1="44.1" y1="390" x2="44.1" y2="443.2" stroke="#a5a5a5" stroke-width="1.0" stroke-dasharray="0.5 1.6"/>
<line x1="45" y1="444.09999999999997" x2="98.5" y2="444.09999999999997" stroke="#a5a5a5" stroke-width="1.0" stroke-dasharray="0.5 1.6"/>
<text x="35.4" y="397.4" font-size="4.6" textLength="7" lengthAdjust="spacingAndGlyphs" fill="#444" class="l">10<tspan font-size="2.9" dy="-1.7">5</tspan></text>
<text x="35.4" y="408.4" font-size="4.6" textLength="7" lengthAdjust="spacingAndGlyphs" fill="#444" class="l">10<tspan font-size="2.9" dy="-1.7">4</tspan></text>
<text x="35.4" y="420.9" font-size="4.6" textLength="7" lengthAdjust="spacingAndGlyphs" fill="#444" class="l">10<tspan font-size="2.9" dy="-1.7">3</tspan></text>
<text x="35.4" y="433.5" font-size="4.6" textLength="7" lengthAdjust="spacingAndGlyphs" fill="#444" class="l">10<tspan font-size="2.9" dy="-1.7">2</tspan></text>
<text x="38.0" y="439.0" font-size="4.3999999999999995" fill="#444" class="l">0</text>
<text x="47.40" y="449.50" font-size="4.7" fill="#1c1c1c" text-anchor="end" transform="rotate(-45 47.40 449.50)">0</text>
<text x="57.50" y="448.90" font-size="4.7" fill="#1c1c1c" text-anchor="end" transform="rotate(-45 57.50 448.90)">50K</text>
<text x="67.35" y="448.90" font-size="4.7" fill="#1c1c1c" text-anchor="end" transform="rotate(-45 67.35 448.90)">100K</text>
<text x="77.20" y="448.90" font-size="4.7" fill="#1c1c1c" text-anchor="end" transform="rotate(-45 77.20 448.90)">150K</text>
<text x="87.05" y="448.90" font-size="4.7" fill="#1c1c1c" text-anchor="end" transform="rotate(-45 87.05 448.90)">200K</text>
<text x="96.90" y="448.90" font-size="4.7" fill="#1c1c1c" text-anchor="end" transform="rotate(-45 96.90 448.90)">250K</text>
<rect x="45.00" y="464.70" width="53.50" height="52.70" fill="#fff" stroke="#858585" stroke-width="0.8"/>
<line x1="64.4" y1="464.7" x2="64.4" y2="517.4" stroke="#777" stroke-width="0.6"/>
<line x1="45" y1="498.2" x2="98.5" y2="498.2" stroke="#777" stroke-width="0.6"/>
<line x1="44.1" y1="464.7" x2="44.1" y2="517.4" stroke="#a5a5a5" stroke-width="1.0" stroke-dasharray="0.5 1.6"/>
<line x1="45" y1="518.3" x2="98.5" y2="518.3" stroke="#a5a5a5" stroke-width="1.0" stroke-dasharray="0.5 1.6"/>
<text x="35.4" y="472.09999999999997" font-size="4.6" textLength="7" lengthAdjust="spacingAndGlyphs" fill="#444" class="l">10<tspan font-size="2.9" dy="-1.7">5</tspan></text>
<text x="35.4" y="483.09999999999997" font-size="4.6" textLength="7" lengthAdjust="spacingAndGlyphs" fill="#444" class="l">10<tspan font-size="2.9" dy="-1.7">4</tspan></text>
<text x="35.4" y="495.59999999999997" font-size="4.6" textLength="7" lengthAdjust="spacingAndGlyphs" fill="#444" class="l">10<tspan font-size="2.9" dy="-1.7">3</tspan></text>
<text x="35.4" y="508.2" font-size="4.6" textLength="7" lengthAdjust="spacingAndGlyphs" fill="#444" class="l">10<tspan font-size="2.9" dy="-1.7">2</tspan></text>
<text x="38.0" y="513.7" font-size="4.3999999999999995" fill="#444" class="l">0</text>
<text x="47.40" y="523.70" font-size="4.7" fill="#1c1c1c" text-anchor="end" transform="rotate(-45 47.40 523.70)">0</text>
<text x="57.50" y="523.10" font-size="4.7" fill="#1c1c1c" text-anchor="end" transform="rotate(-45 57.50 523.10)">50K</text>
<text x="67.35" y="523.10" font-size="4.7" fill="#1c1c1c" text-anchor="end" transform="rotate(-45 67.35 523.10)">100K</text>
<text x="77.20" y="523.10" font-size="4.7" fill="#1c1c1c" text-anchor="end" transform="rotate(-45 77.20 523.10)">150K</text>
<text x="87.05" y="523.10" font-size="4.7" fill="#1c1c1c" text-anchor="end" transform="rotate(-45 87.05 523.10)">200K</text>
<text x="96.90" y="523.10" font-size="4.7" fill="#1c1c1c" text-anchor="end" transform="rotate(-45 96.90 523.10)">250K</text>
<rect x="116.25" y="390.00" width="53.00" height="53.20" fill="#fff" stroke="#858585" stroke-width="0.8"/>
<line x1="135.8" y1="390" x2="135.8" y2="443.2" stroke="#777" stroke-width="0.6"/>
<line x1="116.25" y1="423.1" x2="169.25" y2="423.1" stroke="#777" stroke-width="0.6"/>
<line x1="115.35" y1="390" x2="115.35" y2="443.2" stroke="#a5a5a5" stroke-width="1.0" stroke-dasharray="0.5 1.6"/>
<line x1="116.25" y1="444.09999999999997" x2="169.25" y2="444.09999999999997" stroke="#a5a5a5" stroke-width="1.0" stroke-dasharray="0.5 1.6"/>
<text x="106.65" y="397.4" font-size="4.6" textLength="7" lengthAdjust="spacingAndGlyphs" fill="#444" class="l">10<tspan font-size="2.9" dy="-1.7">5</tspan></text>
<text x="106.65" y="408.4" font-size="4.6" textLength="7" lengthAdjust="spacingAndGlyphs" fill="#444" class="l">10<tspan font-size="2.9" dy="-1.7">4</tspan></text>
<text x="106.65" y="420.9" font-size="4.6" textLength="7" lengthAdjust="spacingAndGlyphs" fill="#444" class="l">10<tspan font-size="2.9" dy="-1.7">3</tspan></text>
<text x="106.65" y="433.5" font-size="4.6" textLength="7" lengthAdjust="spacingAndGlyphs" fill="#444" class="l">10<tspan font-size="2.9" dy="-1.7">2</tspan></text>
<text x="109.25" y="439.0" font-size="4.3999999999999995" fill="#444" class="l">0</text>
<text x="118.65" y="449.50" font-size="4.7" fill="#1c1c1c" text-anchor="end" transform="rotate(-45 118.65 449.50)">0</text>
<text x="128.75" y="448.90" font-size="4.7" fill="#1c1c1c" text-anchor="end" transform="rotate(-45 128.75 448.90)">50K</text>
<text x="138.60" y="448.90" font-size="4.7" fill="#1c1c1c" text-anchor="end" transform="rotate(-45 138.60 448.90)">100K</text>
<text x="148.45" y="448.90" font-size="4.7" fill="#1c1c1c" text-anchor="end" transform="rotate(-45 148.45 448.90)">150K</text>
<text x="158.30" y="448.90" font-size="4.7" fill="#1c1c1c" text-anchor="end" transform="rotate(-45 158.30 448.90)">200K</text>
<text x="168.15" y="448.90" font-size="4.7" fill="#1c1c1c" text-anchor="end" transform="rotate(-45 168.15 448.90)">250K</text>
<rect x="116.25" y="464.70" width="53.00" height="52.70" fill="#fff" stroke="#858585" stroke-width="0.8"/>
<line x1="135.8" y1="464.7" x2="135.8" y2="517.4" stroke="#777" stroke-width="0.6"/>
<line x1="116.25" y1="498.2" x2="169.25" y2="498.2" stroke="#777" stroke-width="0.6"/>
<line x1="115.35" y1="464.7" x2="115.35" y2="517.4" stroke="#a5a5a5" stroke-width="1.0" stroke-dasharray="0.5 1.6"/>
<line x1="116.25" y1="518.3" x2="169.25" y2="518.3" stroke="#a5a5a5" stroke-width="1.0" stroke-dasharray="0.5 1.6"/>
<text x="106.65" y="472.09999999999997" font-size="4.6" textLength="7" lengthAdjust="spacingAndGlyphs" fill="#444" class="l">10<tspan font-size="2.9" dy="-1.7">5</tspan></text>
<text x="106.65" y="483.09999999999997" font-size="4.6" textLength="7" lengthAdjust="spacingAndGlyphs" fill="#444" class="l">10<tspan font-size="2.9" dy="-1.7">4</tspan></text>
<text x="106.65" y="495.59999999999997" font-size="4.6" textLength="7" lengthAdjust="spacingAndGlyphs" fill="#444" class="l">10<tspan font-size="2.9" dy="-1.7">3</tspan></text>
<text x="106.65" y="508.2" font-size="4.6" textLength="7" lengthAdjust="spacingAndGlyphs" fill="#444" class="l">10<tspan font-size="2.9" dy="-1.7">2</tspan></text>
<text x="109.25" y="513.7" font-size="4.3999999999999995" fill="#444" class="l">0</text>
<text x="118.65" y="523.70" font-size="4.7" fill="#1c1c1c" text-anchor="end" transform="rotate(-45 118.65 523.70)">0</text>
<text x="128.75" y="523.10" font-size="4.7" fill="#1c1c1c" text-anchor="end" transform="rotate(-45 128.75 523.10)">50K</text>
<text x="138.60" y="523.10" font-size="4.7" fill="#1c1c1c" text-anchor="end" transform="rotate(-45 138.60 523.10)">100K</text>
<text x="148.45" y="523.10" font-size="4.7" fill="#1c1c1c" text-anchor="end" transform="rotate(-45 148.45 523.10)">150K</text>
<text x="158.30" y="523.10" font-size="4.7" fill="#1c1c1c" text-anchor="end" transform="rotate(-45 158.30 523.10)">200K</text>
<text x="168.15" y="523.10" font-size="4.7" fill="#1c1c1c" text-anchor="end" transform="rotate(-45 168.15 523.10)">250K</text>
<g clip-path="url(#cc00)"><path d="M63.4 409.6 L68 406.4" stroke="#333" stroke-width="3.2" stroke-linecap="round" fill="none"/><ellipse cx="71" cy="405.3" rx="3.3" ry="2.1" fill="#fff" stroke="#333" stroke-width="0.55" transform="rotate(-12 71 405.3)"/><path d="M63.4 409.6 L68.6 406.1" stroke="#fff" stroke-width="2.1" stroke-linecap="round" fill="none"/></g>
<g clip-path="url(#cc00)">
<rect x="54.90" y="406.60" width="9.60" height="30.40" rx="4.80" fill="#8a8a8a" stroke="#2e2e2e" stroke-width="0.55"/>
<rect x="55.80" y="407.50" width="7.80" height="28.60" rx="3.90" fill="#9a9a9a" stroke="#2a2a2a" stroke-width="0.45"/>
<rect x="56.70" y="408.40" width="6.00" height="26.80" rx="3.00" fill="#5e5e5e" stroke="#222" stroke-width="0.45"/>
<rect x="57.60" y="409.30" width="4.20" height="25.00" rx="2.10" fill="#8a8a8a" stroke="#333" stroke-width="0.45"/>
<rect x="58.50" y="410.20" width="2.40" height="23.20" rx="1.20" fill="#d8d8d8" stroke="#555" stroke-width="0.45"/>
<rect x="54.60" y="423.20" width="10.20" height="13.80" rx="4.20" fill="#444"/>
<rect x="55.50" y="424.80" width="8.40" height="11.40" rx="3.36" fill="#0b0b0b"/>
<line x1="59.7" y1="427.30" x2="59.7" y2="433.70" stroke="#ddd" stroke-width="0.5" stroke-dasharray="0.7 2.2"/>
</g>
<g clip-path="url(#cc10)">
<line x1="133.4" y1="412.0" x2="144.8" y2="407.6" stroke="#444" stroke-width="6.00" stroke-linecap="round"/>
<line x1="133.4" y1="412.0" x2="144.8" y2="407.6" stroke="#fff" stroke-width="4.90" stroke-linecap="round"/>
<line x1="133.4" y1="412.0" x2="144.8" y2="407.6" stroke="#555" stroke-width="3.10" stroke-linecap="round"/>
<line x1="133.4" y1="412.0" x2="144.8" y2="407.6" stroke="#fff" stroke-width="2.10" stroke-linecap="round"/>
<line x1="133.4" y1="412.0" x2="144.8" y2="407.6" stroke="#f2f2f2" stroke-width="2.10" stroke-linecap="round"/>
<rect x="127.30" y="407.20" width="6.60" height="27.70" rx="3.30" fill="#8a8a8a" stroke="#2e2e2e" stroke-width="0.55"/>
<rect x="128.10" y="408.00" width="5.00" height="26.10" rx="2.50" fill="#0b0b0b"/>
<line x1="130.6" y1="410.20" x2="130.6" y2="431.90" stroke="#e6e6e6" stroke-width="0.5" stroke-dasharray="1.6 1.3"/>
</g>
<circle cx="154.0" cy="423.3" r="0.35" fill="#c4c4c4"/>
<circle cx="147.9" cy="424.8" r="0.35" fill="#c4c4c4"/>
<circle cx="147.1" cy="423.9" r="0.35" fill="#c4c4c4"/>
<circle cx="134.8" cy="434.6" r="0.35" fill="#c4c4c4"/>
<circle cx="148.1" cy="424.6" r="0.35" fill="#c4c4c4"/>
<circle cx="147.4" cy="433.9" r="0.35" fill="#c4c4c4"/>
<circle cx="139.2" cy="427.3" r="0.35" fill="#c4c4c4"/>
<circle cx="149.8" cy="431.2" r="0.35" fill="#c4c4c4"/>
<circle cx="143.7" cy="415.4" r="0.35" fill="#c4c4c4"/>
<circle cx="154.7" cy="430.0" r="0.35" fill="#c4c4c4"/>
<circle cx="146.1" cy="426.3" r="0.35" fill="#c4c4c4"/>
<circle cx="147.8" cy="425.4" r="0.35" fill="#c4c4c4"/>
<g clip-path="url(#cc01)"><path d="M63.6 485.2 L70 482.6" stroke="#333" stroke-width="3.6" stroke-linecap="round" fill="none"/><ellipse cx="72.6" cy="481.9" rx="3.4" ry="2.5" fill="#fff" stroke="#333" stroke-width="0.55" transform="rotate(-12 72.6 481.9)"/><path d="M63.6 485.2 L70.6 482.4" stroke="#fff" stroke-width="2.5" stroke-linecap="round" fill="none"/></g>
<g clip-path="url(#cc01)">
<rect x="55.50" y="481.20" width="9.00" height="27.70" rx="4.50" fill="#8a8a8a" stroke="#2e2e2e" stroke-width="0.55"/>
<rect x="56.30" y="482.00" width="7.40" height="26.10" rx="3.70" fill="#0b0b0b"/>
<line x1="60" y1="484.20" x2="60" y2="505.90" stroke="#e6e6e6" stroke-width="0.5" stroke-dasharray="1.6 1.3"/>
</g>
<ellipse cx="71.60" cy="482.30" rx="1.30" ry="0.80" fill="#fff" stroke="#555" stroke-width="0.4" transform="rotate(-15 71.6 482.3)"/>
<g clip-path="url(#cc11)">
<line x1="133.6" y1="486.6" x2="146.3" y2="483.2" stroke="#444" stroke-width="6.00" stroke-linecap="round"/>
<line x1="133.6" y1="486.6" x2="146.3" y2="483.2" stroke="#fff" stroke-width="4.90" stroke-linecap="round"/>
<line x1="133.6" y1="486.6" x2="146.3" y2="483.2" stroke="#555" stroke-width="3.10" stroke-linecap="round"/>
<line x1="133.6" y1="486.6" x2="146.3" y2="483.2" stroke="#fff" stroke-width="2.10" stroke-linecap="round"/>
<line x1="133.6" y1="486.6" x2="146.3" y2="483.2" stroke="#f2f2f2" stroke-width="2.10" stroke-linecap="round"/>
<ellipse cx="146.00" cy="483.20" rx="1.50" ry="1.50" fill="#222" stroke="#000" stroke-width="0.3"/>
<circle cx="146.0" cy="483.2" r="0.63" fill="#fff"/>
<rect x="128.00" y="482.40" width="6.00" height="26.50" rx="3.00" fill="#8a8a8a" stroke="#2e2e2e" stroke-width="0.55"/>
<rect x="128.80" y="483.20" width="4.40" height="24.90" rx="2.20" fill="#0b0b0b"/>
<line x1="131" y1="485.40" x2="131" y2="505.90" stroke="#e6e6e6" stroke-width="0.5" stroke-dasharray="1.6 1.3"/>
</g>
<circle cx="139.9" cy="494.8" r="0.35" fill="#b0b0b0"/>
<circle cx="142.4" cy="495.7" r="0.35" fill="#b0b0b0"/>
<circle cx="139.0" cy="504.5" r="0.35" fill="#b0b0b0"/>
<circle cx="138.1" cy="504.6" r="0.35" fill="#b0b0b0"/>
<circle cx="139.9" cy="502.5" r="0.35" fill="#b0b0b0"/>
<circle cx="154.2" cy="501.4" r="0.35" fill="#b0b0b0"/>
<circle cx="141.6" cy="500.3" r="0.35" fill="#b0b0b0"/>
<circle cx="146.9" cy="487.9" r="0.35" fill="#b0b0b0"/>
<circle cx="142.4" cy="501.1" r="0.35" fill="#b0b0b0"/>
<circle cx="143.2" cy="500.6" r="0.35" fill="#b0b0b0"/>
<circle cx="150.4" cy="505.4" r="0.35" fill="#b0b0b0"/>
<circle cx="151.4" cy="504.1" r="0.35" fill="#b0b0b0"/>
<circle cx="144.3" cy="499.9" r="0.35" fill="#b0b0b0"/>
<circle cx="144.4" cy="497.8" r="0.35" fill="#b0b0b0"/>
<circle cx="144.9" cy="487.9" r="0.35" fill="#b0b0b0"/>
<circle cx="144.0" cy="499.8" r="0.35" fill="#b0b0b0"/>
<circle cx="140.2" cy="499.8" r="0.35" fill="#b0b0b0"/>
<circle cx="149.1" cy="498.8" r="0.35" fill="#b0b0b0"/>
<circle cx="158.5" cy="481.8" r="0.35" fill="#b0b0b0"/>
<circle cx="144.8" cy="487.2" r="0.35" fill="#b0b0b0"/>
<circle cx="151.9" cy="518.6" r="0.35" fill="#b0b0b0"/>
<circle cx="131.0" cy="500.9" r="0.35" fill="#b0b0b0"/>
<circle cx="149.1" cy="497.9" r="0.35" fill="#b0b0b0"/>
<circle cx="149.3" cy="484.3" r="0.35" fill="#b0b0b0"/>
<text x="46.3" y="395.8" font-size="6.4" textLength="7.2" lengthAdjust="spacingAndGlyphs" fill="#111" stroke="#111" stroke-width="0.1">G1</text>
<text x="46.1" y="403.8" font-size="6.4" textLength="18.5" lengthAdjust="spacingAndGlyphs" fill="#111" stroke="#111" stroke-width="0.1">21.0%</text>
<text x="94.9" y="395.8" font-size="6.4" text-anchor="end" textLength="21.8" lengthAdjust="spacingAndGlyphs" fill="#111" stroke="#111" stroke-width="0.1">S/G2/M</text>
<text x="94.9" y="403.8" font-size="6.4" text-anchor="end" textLength="18" lengthAdjust="spacingAndGlyphs" fill="#111" stroke="#111" stroke-width="0.1">3.89%</text>
<text x="46.3" y="432.9" font-size="6.4" textLength="7.8" lengthAdjust="spacingAndGlyphs" fill="#111" stroke="#111" stroke-width="0.1">G0</text>
<text x="46.1" y="441.3" font-size="6.4" textLength="18.5" lengthAdjust="spacingAndGlyphs" fill="#111" stroke="#111" stroke-width="0.1">75.1%</text>
<text x="117.55" y="395.8" font-size="6.4" textLength="7.2" lengthAdjust="spacingAndGlyphs" fill="#111" stroke="#111" stroke-width="0.1">G1</text>
<text x="117.35" y="403.8" font-size="6.4" textLength="18.5" lengthAdjust="spacingAndGlyphs" fill="#111" stroke="#111" stroke-width="0.1">66.8%</text>
<text x="165.65" y="395.8" font-size="6.4" text-anchor="end" textLength="21.8" lengthAdjust="spacingAndGlyphs" fill="#111" stroke="#111" stroke-width="0.1">S/G2/M</text>
<text x="165.65" y="403.8" font-size="6.4" text-anchor="end" textLength="18" lengthAdjust="spacingAndGlyphs" fill="#111" stroke="#111" stroke-width="0.1">11.6%</text>
<text x="117.55" y="432.9" font-size="6.4" textLength="7.8" lengthAdjust="spacingAndGlyphs" fill="#111" stroke="#111" stroke-width="0.1">G0</text>
<text x="117.35" y="441.3" font-size="6.4" textLength="18.5" lengthAdjust="spacingAndGlyphs" fill="#111" stroke="#111" stroke-width="0.1">21.3%</text>
<text x="46.3" y="470.5" font-size="6.4" textLength="7.2" lengthAdjust="spacingAndGlyphs" fill="#111" stroke="#111" stroke-width="0.1">G1</text>
<text x="46.1" y="478.5" font-size="6.4" textLength="18.5" lengthAdjust="spacingAndGlyphs" fill="#111" stroke="#111" stroke-width="0.1">42.3%</text>
<text x="94.9" y="470.5" font-size="6.4" text-anchor="end" textLength="21.8" lengthAdjust="spacingAndGlyphs" fill="#111" stroke="#111" stroke-width="0.1">S/G2/M</text>
<text x="94.9" y="478.5" font-size="6.4" text-anchor="end" textLength="18" lengthAdjust="spacingAndGlyphs" fill="#111" stroke="#111" stroke-width="0.1">5.97%</text>
<text x="46.3" y="507.59999999999997" font-size="6.4" textLength="7.8" lengthAdjust="spacingAndGlyphs" fill="#111" stroke="#111" stroke-width="0.1">G0</text>
<text x="46.1" y="516.0" font-size="6.4" textLength="18.5" lengthAdjust="spacingAndGlyphs" fill="#111" stroke="#111" stroke-width="0.1">51.5%</text>
<text x="117.55" y="470.5" font-size="6.4" textLength="7.2" lengthAdjust="spacingAndGlyphs" fill="#111" stroke="#111" stroke-width="0.1">G1</text>
<text x="117.35" y="478.5" font-size="6.4" textLength="18.5" lengthAdjust="spacingAndGlyphs" fill="#111" stroke="#111" stroke-width="0.1">63.0%</text>
<text x="165.65" y="470.5" font-size="6.4" text-anchor="end" textLength="21.8" lengthAdjust="spacingAndGlyphs" fill="#111" stroke="#111" stroke-width="0.1">S/G2/M</text>
<text x="165.65" y="478.5" font-size="6.4" text-anchor="end" textLength="18" lengthAdjust="spacingAndGlyphs" fill="#111" stroke="#111" stroke-width="0.1">16.1%</text>
<text x="117.55" y="507.59999999999997" font-size="6.4" textLength="7.8" lengthAdjust="spacingAndGlyphs" fill="#111" stroke="#111" stroke-width="0.1">G0</text>
<text x="117.35" y="516.0" font-size="6.4" textLength="18.5" lengthAdjust="spacingAndGlyphs" fill="#111" stroke="#111" stroke-width="0.1">20.3%</text>
<text x="173.2" y="423" font-size="8.6" textLength="25.8" lengthAdjust="spacingAndGlyphs" fill="#1a1718">Control</text>
<text x="173.5" y="488.59999999999997" font-size="8" textLength="33.1" lengthAdjust="spacingAndGlyphs" fill="#1a1718">Vav-iCre<tspan font-size="4.5" dy="-3.2" class="l" fill="#222">+</tspan><tspan dy="3.2">,</tspan></text>
<text x="176.7" y="498.7" font-size="8" textLength="27.5" lengthAdjust="spacingAndGlyphs" fill="#1a1718">NCoR1<tspan font-size="4.5" dy="-3.2" class="l" fill="#333">f/f</tspan></text>
<line x1="28.6" y1="498.6" x2="28.6" y2="394.5" stroke="#111" stroke-width="1.25"/>
<path d="M28.6 390.5 L25.6 397.8 L28.6 396.2 L31.6 397.8 Z" fill="#000"/>
<text x="32.0" y="517.1" font-size="10.8" textLength="19" lengthAdjust="spacingAndGlyphs" transform="rotate(-90 32.0 517.1)" fill="#1a1718">Ki67</text>
<line x1="111" y1="539.2" x2="165.4" y2="539.2" stroke="#111" stroke-width="1.25"/>
<path d="M169.4 539.2 L162.1 536.2 L163.70000000000002 539.2 L162.1 542.2 Z" fill="#000"/>
<text x="45.8" y="542.4" font-size="10.8" textLength="65.4" lengthAdjust="spacingAndGlyphs" fill="#1a1718">Hoechst 33342</text>
<text x="310" y="398.2" font-size="9.6" text-anchor="middle" textLength="28.8" lengthAdjust="spacingAndGlyphs" fill="#1a1718">LT-HSC</text>
<line x1="257.8" y1="425.8" x2="257.8" y2="509.45" stroke="#111" stroke-width="1.3"/>
<line x1="257.15000000000003" y1="508.8" x2="361.2" y2="508.8" stroke="#111" stroke-width="1.3"/>
<line x1="254.10000000000002" y1="508.8" x2="257.8" y2="508.8" stroke="#111" stroke-width="1.1"/>
<text x="251.3" y="511.92400000000004" font-size="8.8" text-anchor="end" textLength="4.4" lengthAdjust="spacingAndGlyphs" fill="#1a1718">0</text>
<line x1="254.10000000000002" y1="492.7" x2="257.8" y2="492.7" stroke="#111" stroke-width="1.1"/>
<text x="251.3" y="495.824" font-size="8.8" text-anchor="end" textLength="8.8" lengthAdjust="spacingAndGlyphs" fill="#1a1718">20</text>
<line x1="254.10000000000002" y1="476.6" x2="257.8" y2="476.6" stroke="#111" stroke-width="1.1"/>
<text x="251.3" y="479.72400000000005" font-size="8.8" text-anchor="end" textLength="8.8" lengthAdjust="spacingAndGlyphs" fill="#1a1718">40</text>
<line x1="254.10000000000002" y1="460.5" x2="257.8" y2="460.5" stroke="#111" stroke-width="1.1"/>
<text x="251.3" y="463.624" font-size="8.8" text-anchor="end" textLength="8.8" lengthAdjust="spacingAndGlyphs" fill="#1a1718">60</text>
<line x1="254.10000000000002" y1="444.4" x2="257.8" y2="444.4" stroke="#111" stroke-width="1.1"/>
<text x="251.3" y="447.524" font-size="8.8" text-anchor="end" textLength="8.8" lengthAdjust="spacingAndGlyphs" fill="#1a1718">80</text>
<line x1="254.10000000000002" y1="428.3" x2="257.8" y2="428.3" stroke="#111" stroke-width="1.1"/>
<text x="251.3" y="431.42400000000004" font-size="8.8" text-anchor="end" textLength="13.2" lengthAdjust="spacingAndGlyphs" fill="#1a1718">100</text>
<line x1="275.3" y1="508.8" x2="275.3" y2="512.8" stroke="#111" stroke-width="1.1"/>
<line x1="309.5" y1="508.8" x2="309.5" y2="512.8" stroke="#111" stroke-width="1.1"/>
<line x1="343.6" y1="508.8" x2="343.6" y2="512.8" stroke="#111" stroke-width="1.1"/>
<rect x="263.80" y="446.81" width="9.70" height="61.99" fill="#a03245"/>
<line x1="268.65000000000003" y1="446.815" x2="268.65000000000003" y2="445.7685" stroke="#7a2233" stroke-width="0.85"/>
<line x1="266.15000000000003" y1="445.7685" x2="271.15000000000003" y2="445.7685" stroke="#7a2233" stroke-width="0.85"/>
<rect x="277.20" y="474.19" width="9.70" height="34.62" fill="#496285"/>
<line x1="282.05" y1="474.185" x2="282.05" y2="473.38" stroke="#33465f" stroke-width="0.85"/>
<line x1="279.55" y1="473.38" x2="284.55" y2="473.38" stroke="#33465f" stroke-width="0.85"/>
<rect x="298.00" y="493.75" width="9.70" height="15.05" fill="#a03245"/>
<line x1="302.85" y1="493.7465" x2="302.85" y2="493.1025" stroke="#7a2233" stroke-width="0.85"/>
<line x1="300.35" y1="493.1025" x2="305.35" y2="493.1025" stroke="#7a2233" stroke-width="0.85"/>
<rect x="311.40" y="468.87" width="9.70" height="39.93" fill="#496285"/>
<line x1="316.25" y1="468.872" x2="316.25" y2="466.779" stroke="#33465f" stroke-width="0.85"/>
<line x1="313.75" y1="466.779" x2="318.75" y2="466.779" stroke="#33465f" stroke-width="0.85"/>
<rect x="332.10" y="506.38" width="9.70" height="2.42" fill="#a03245"/>
<line x1="336.95000000000005" y1="506.385" x2="336.95000000000005" y2="505.902" stroke="#7a2233" stroke-width="0.85"/>
<line x1="334.45000000000005" y1="505.902" x2="339.45000000000005" y2="505.902" stroke="#7a2233" stroke-width="0.85"/>
<rect x="345.30" y="504.78" width="9.70" height="4.02" fill="#496285"/>
<line x1="350.15000000000003" y1="504.77500000000003" x2="350.15000000000003" y2="504.13100000000003" stroke="#33465f" stroke-width="0.85"/>
<line x1="347.65000000000003" y1="504.13100000000003" x2="352.65000000000003" y2="504.13100000000003" stroke="#33465f" stroke-width="0.85"/>
<line x1="268.2" y1="442.4" x2="282.6" y2="442.4" stroke="#333" stroke-width="1.0"/>
<text x="275.4" y="443.4" font-size="9.4" text-anchor="middle" fill="#333" class="l">***</text>
<line x1="302.7" y1="462" x2="316.5" y2="462" stroke="#333" stroke-width="1.0"/>
<text x="309.6" y="463.0" font-size="9.4" text-anchor="middle" fill="#333" class="l">***</text>
<line x1="336.5" y1="499.3" x2="350.4" y2="499.3" stroke="#333" stroke-width="1.0"/>
<text x="343.45" y="500.3" font-size="9.4" text-anchor="middle" fill="#333" class="l">**</text>
<text x="275.3" y="522.9" font-size="8.3" text-anchor="middle" textLength="10.4" lengthAdjust="spacingAndGlyphs" fill="#1a1718">G0</text>
<text x="309.2" y="522.9" font-size="8.3" text-anchor="middle" textLength="9.6" lengthAdjust="spacingAndGlyphs" fill="#1a1718">G1</text>
<text x="343.8" y="522.9" font-size="8.3" text-anchor="middle" textLength="28.2" lengthAdjust="spacingAndGlyphs" fill="#1a1718">S/G2/M</text>
<text x="230.3" y="468" font-size="10" text-anchor="middle" textLength="36.6" lengthAdjust="spacingAndGlyphs" transform="rotate(-90 230.3 468)" fill="#1a1718">Cells (%)</text>
<text x="460.8" y="398.2" font-size="9.6" text-anchor="middle" textLength="15.8" lengthAdjust="spacingAndGlyphs" fill="#1a1718">LSK</text>
<rect x="413.60" y="407.20" width="10.00" height="8.00" fill="#a03245"/>
<rect x="413.60" y="416.90" width="10.00" height="8.00" fill="#496285"/>
<text x="427" y="413.8" font-size="8.5" textLength="25.5" lengthAdjust="spacingAndGlyphs" fill="#1a1718">Control</text>
<text x="427" y="424.3" font-size="8.5" textLength="62.6" lengthAdjust="spacingAndGlyphs" fill="#1a1718">Vav-iCre<tspan font-size="4.8" dy="-3.4" class="l" fill="#222">+</tspan><tspan dy="3.4">, NCoR1</tspan><tspan font-size="4.8" dy="-3.4" class="l" fill="#333">f/f</tspan></text>
<line x1="409.1" y1="426.2" x2="409.1" y2="509.25" stroke="#111" stroke-width="1.3"/>
<line x1="408.45000000000005" y1="508.6" x2="512.2" y2="508.6" stroke="#111" stroke-width="1.3"/>
<line x1="405.40000000000003" y1="508.6" x2="409.1" y2="508.6" stroke="#111" stroke-width="1.1"/>
<text x="402.5" y="511.795" font-size="9.0" text-anchor="end" textLength="4.5" lengthAdjust="spacingAndGlyphs" fill="#1a1718">0</text>
<line x1="405.40000000000003" y1="488.6" x2="409.1" y2="488.6" stroke="#111" stroke-width="1.1"/>
<text x="402.5" y="491.795" font-size="9.0" text-anchor="end" textLength="9.0" lengthAdjust="spacingAndGlyphs" fill="#1a1718">20</text>
<line x1="405.40000000000003" y1="468.6" x2="409.1" y2="468.6" stroke="#111" stroke-width="1.1"/>
<text x="402.5" y="471.795" font-size="9.0" text-anchor="end" textLength="9.0" lengthAdjust="spacingAndGlyphs" fill="#1a1718">40</text>
<line x1="405.40000000000003" y1="448.6" x2="409.1" y2="448.6" stroke="#111" stroke-width="1.1"/>
<text x="402.5" y="451.795" font-size="9.0" text-anchor="end" textLength="9.0" lengthAdjust="spacingAndGlyphs" fill="#1a1718">60</text>
<line x1="405.40000000000003" y1="428.6" x2="409.1" y2="428.6" stroke="#111" stroke-width="1.1"/>
<text x="402.5" y="431.795" font-size="9.0" text-anchor="end" textLength="9.0" lengthAdjust="spacingAndGlyphs" fill="#1a1718">80</text>
<line x1="425.7" y1="508.6" x2="425.7" y2="512.6" stroke="#111" stroke-width="1.1"/>
<line x1="460.2" y1="508.6" x2="460.2" y2="512.6" stroke="#111" stroke-width="1.1"/>
<line x1="494.4" y1="508.6" x2="494.4" y2="512.6" stroke="#111" stroke-width="1.1"/>
<rect x="414.20" y="484.60" width="9.70" height="24.00" fill="#a03245"/>
<line x1="419.05" y1="484.6" x2="419.05" y2="483.6" stroke="#7a2233" stroke-width="0.85"/>
<line x1="416.55" y1="483.6" x2="421.55" y2="483.6" stroke="#7a2233" stroke-width="0.85"/>
<rect x="427.60" y="483.30" width="9.70" height="25.30" fill="#496285"/>
<line x1="432.45000000000005" y1="483.3" x2="432.45000000000005" y2="481.90000000000003" stroke="#33465f" stroke-width="0.85"/>
<line x1="429.95000000000005" y1="481.90000000000003" x2="434.95000000000005" y2="481.90000000000003" stroke="#33465f" stroke-width="0.85"/>
<rect x="449.00" y="440.60" width="9.70" height="68.00" fill="#a03245"/>
<line x1="453.85" y1="440.6" x2="453.85" y2="439.70000000000005" stroke="#7a2233" stroke-width="0.85"/>
<line x1="451.35" y1="439.70000000000005" x2="456.35" y2="439.70000000000005" stroke="#7a2233" stroke-width="0.85"/>
<rect x="461.90" y="445.10" width="9.70" height="63.50" fill="#496285"/>
<line x1="466.75" y1="445.1" x2="466.75" y2="444.5" stroke="#33465f" stroke-width="0.85"/>
<line x1="464.25" y1="444.5" x2="469.25" y2="444.5" stroke="#33465f" stroke-width="0.85"/>
<rect x="482.80" y="497.60" width="9.70" height="11.00" fill="#a03245"/>
<line x1="487.65000000000003" y1="497.6" x2="487.65000000000003" y2="497.1" stroke="#7a2233" stroke-width="0.85"/>
<line x1="485.15000000000003" y1="497.1" x2="490.15000000000003" y2="497.1" stroke="#7a2233" stroke-width="0.85"/>
<rect x="496.10" y="491.90" width="9.70" height="16.70" fill="#496285"/>
<line x1="500.95000000000005" y1="491.90000000000003" x2="500.95000000000005" y2="491.3" stroke="#33465f" stroke-width="0.85"/>
<line x1="498.45000000000005" y1="491.3" x2="503.45000000000005" y2="491.3" stroke="#33465f" stroke-width="0.85"/>
<line x1="453.5" y1="435.8" x2="466.9" y2="435.8" stroke="#333" stroke-width="1.0"/>
<text x="460.2" y="436.8" font-size="9.4" text-anchor="middle" fill="#333" class="l">**</text>
<line x1="487.3" y1="487.9" x2="501.7" y2="487.9" stroke="#333" stroke-width="1.0"/>
<text x="494.5" y="488.9" font-size="9.4" text-anchor="middle" fill="#333" class="l">***</text>
<text x="425.7" y="523" font-size="8.3" text-anchor="middle" textLength="10.8" lengthAdjust="spacingAndGlyphs" fill="#1a1718">G0</text>
<text x="460.0" y="523" font-size="8.3" text-anchor="middle" textLength="9.8" lengthAdjust="spacingAndGlyphs" fill="#1a1718">G1</text>
<text x="494.7" y="523" font-size="8.3" text-anchor="middle" textLength="27.6" lengthAdjust="spacingAndGlyphs" fill="#1a1718">S/G2/M</text>
<text x="387.4" y="469" font-size="10" text-anchor="middle" textLength="36" lengthAdjust="spacingAndGlyphs" transform="rotate(-90 387.4 469)" fill="#1a1718">Cells (%)</text>
</g>
<g id="panelD">
<text x="109.4" y="576.0" font-size="10.2" text-anchor="middle" textLength="30" lengthAdjust="spacingAndGlyphs" fill="#1a1718">LT-HSC</text>
<line x1="52.5" y1="582.6" x2="52.5" y2="666.15" stroke="#111" stroke-width="1.3"/>
<line x1="51.85" y1="665.5" x2="167" y2="665.5" stroke="#111" stroke-width="1.3"/>
<line x1="48.8" y1="665.5" x2="52.5" y2="665.5" stroke="#111" stroke-width="1.1"/>
<text x="46.3" y="668.624" font-size="8.8" text-anchor="end" textLength="10.65" lengthAdjust="spacingAndGlyphs" fill="#1a1718">0.0</text>
<line x1="48.8" y1="638.8" x2="52.5" y2="638.8" stroke="#111" stroke-width="1.1"/>
<text x="46.3" y="641.924" font-size="8.8" text-anchor="end" textLength="10.65" lengthAdjust="spacingAndGlyphs" fill="#1a1718">0.5</text>
<line x1="48.8" y1="612.1" x2="52.5" y2="612.1" stroke="#111" stroke-width="1.1"/>
<text x="46.3" y="615.224" font-size="8.8" text-anchor="end" textLength="10.65" lengthAdjust="spacingAndGlyphs" fill="#1a1718">1.0</text>
<line x1="48.8" y1="585.4" x2="52.5" y2="585.4" stroke="#111" stroke-width="1.1"/>
<text x="46.3" y="588.524" font-size="8.8" text-anchor="end" textLength="10.65" lengthAdjust="spacingAndGlyphs" fill="#1a1718">1.5</text>
<line x1="64.2" y1="665.5" x2="64.2" y2="669.5" stroke="#111" stroke-width="1.1"/>
<line x1="86.75" y1="665.5" x2="86.75" y2="669.5" stroke="#111" stroke-width="1.1"/>
<line x1="109.30000000000001" y1="665.5" x2="109.30000000000001" y2="669.5" stroke="#111" stroke-width="1.1"/>
<line x1="131.85000000000002" y1="665.5" x2="131.85000000000002" y2="669.5" stroke="#111" stroke-width="1.1"/>
<line x1="154.4" y1="665.5" x2="154.4" y2="669.5" stroke="#111" stroke-width="1.1"/>
<rect x="56.15" y="612.10" width="6.95" height="53.40" fill="#a03245"/>
<line x1="59.625" y1="612.1" x2="59.625" y2="609.4300000000001" stroke="#7a2233" stroke-width="0.85"/>
<line x1="57.925" y1="609.4300000000001" x2="61.325" y2="609.4300000000001" stroke="#7a2233" stroke-width="0.85"/>
<rect x="65.10" y="619.58" width="6.95" height="45.92" fill="#496285"/>
<line x1="68.57499999999999" y1="619.576" x2="68.57499999999999" y2="617.173" stroke="#33465f" stroke-width="0.85"/>
<line x1="66.87499999999999" y1="617.173" x2="70.27499999999999" y2="617.173" stroke="#33465f" stroke-width="0.85"/>
<rect x="78.85" y="612.10" width="6.95" height="53.40" fill="#a03245"/>
<line x1="82.32499999999999" y1="612.1" x2="82.32499999999999" y2="609.697" stroke="#7a2233" stroke-width="0.85"/>
<line x1="80.62499999999999" y1="609.697" x2="84.02499999999999" y2="609.697" stroke="#7a2233" stroke-width="0.85"/>
<rect x="87.80" y="615.84" width="6.95" height="49.66" fill="#496285"/>
<line x1="91.27499999999999" y1="615.838" x2="91.27499999999999" y2="615.1972" stroke="#33465f" stroke-width="0.85"/>
<line x1="89.57499999999999" y1="615.1972" x2="92.975" y2="615.1972" stroke="#33465f" stroke-width="0.85"/>
<rect x="101.55" y="612.10" width="6.95" height="53.40" fill="#a03245"/>
<rect x="110.50" y="611.03" width="6.95" height="54.47" fill="#496285"/>
<rect x="124.25" y="612.10" width="6.95" height="53.40" fill="#a03245"/>
<line x1="127.725" y1="612.1" x2="127.725" y2="611.4592" stroke="#7a2233" stroke-width="0.85"/>
<line x1="126.02499999999999" y1="611.4592" x2="129.42499999999998" y2="611.4592" stroke="#7a2233" stroke-width="0.85"/>
<rect x="133.20" y="610.50" width="6.95" height="55.00" fill="#496285"/>
<line x1="136.67499999999998" y1="610.498" x2="136.67499999999998" y2="608.629" stroke="#33465f" stroke-width="0.85"/>
<line x1="134.975" y1="608.629" x2="138.37499999999997" y2="608.629" stroke="#33465f" stroke-width="0.85"/>
<rect x="146.95" y="612.10" width="6.95" height="53.40" fill="#a03245"/>
<line x1="150.42499999999998" y1="612.1" x2="150.42499999999998" y2="609.697" stroke="#7a2233" stroke-width="0.85"/>
<line x1="148.725" y1="609.697" x2="152.12499999999997" y2="609.697" stroke="#7a2233" stroke-width="0.85"/>
<rect x="155.90" y="633.73" width="6.95" height="31.77" fill="#496285"/>
<line x1="159.37499999999997" y1="633.727" x2="159.37499999999997" y2="633.193" stroke="#33465f" stroke-width="0.85"/>
<line x1="157.67499999999998" y1="633.193" x2="161.07499999999996" y2="633.193" stroke="#33465f" stroke-width="0.85"/>
<text x="64.5" y="680" font-size="8.6" text-anchor="middle" textLength="13.3" lengthAdjust="spacingAndGlyphs" fill="#1a1718">p57</text>
<text x="87.05" y="680" font-size="8.6" text-anchor="middle" textLength="13.3" lengthAdjust="spacingAndGlyphs" fill="#1a1718">p21</text>
<text x="109.60000000000001" y="680" font-size="8.6" text-anchor="middle" textLength="13.3" lengthAdjust="spacingAndGlyphs" fill="#1a1718">p27</text>
<text x="132.15000000000003" y="680" font-size="8.6" text-anchor="middle" textLength="13.3" lengthAdjust="spacingAndGlyphs" fill="#1a1718">p19</text>
<text x="154.70000000000002" y="680" font-size="8.6" text-anchor="middle" textLength="13.3" lengthAdjust="spacingAndGlyphs" fill="#1a1718">p18</text>
<line x1="149.5" y1="606.2" x2="159.8" y2="606.2" stroke="#333" stroke-width="1.0"/>
<text x="154.65" y="607.2" font-size="8.6" text-anchor="middle" fill="#333" class="l">***</text>
<text x="26.8" y="624.0" font-size="9" text-anchor="middle" textLength="88.6" lengthAdjust="spacingAndGlyphs" transform="rotate(-90 26.8 624.0)" fill="#1a1718">Relative mRNA level</text>
<text x="275.2" y="576.0" font-size="10.2" text-anchor="middle" textLength="15.4" lengthAdjust="spacingAndGlyphs" fill="#1a1718">LSK</text>
<line x1="217.5" y1="582.6" x2="217.5" y2="666.15" stroke="#111" stroke-width="1.3"/>
<line x1="216.85" y1="665.5" x2="332" y2="665.5" stroke="#111" stroke-width="1.3"/>
<line x1="213.8" y1="665.5" x2="217.5" y2="665.5" stroke="#111" stroke-width="1.1"/>
<text x="211.3" y="668.624" font-size="8.8" text-anchor="end" textLength="10.65" lengthAdjust="spacingAndGlyphs" fill="#1a1718">0.0</text>
<line x1="213.8" y1="638.8" x2="217.5" y2="638.8" stroke="#111" stroke-width="1.1"/>
<text x="211.3" y="641.924" font-size="8.8" text-anchor="end" textLength="10.65" lengthAdjust="spacingAndGlyphs" fill="#1a1718">0.5</text>
<line x1="213.8" y1="612.1" x2="217.5" y2="612.1" stroke="#111" stroke-width="1.1"/>
<text x="211.3" y="615.224" font-size="8.8" text-anchor="end" textLength="10.65" lengthAdjust="spacingAndGlyphs" fill="#1a1718">1.0</text>
<line x1="213.8" y1="585.4" x2="217.5" y2="585.4" stroke="#111" stroke-width="1.1"/>
<text x="211.3" y="588.524" font-size="8.8" text-anchor="end" textLength="10.65" lengthAdjust="spacingAndGlyphs" fill="#1a1718">1.5</text>
<line x1="229.2" y1="665.5" x2="229.2" y2="669.5" stroke="#111" stroke-width="1.1"/>
<line x1="251.75" y1="665.5" x2="251.75" y2="669.5" stroke="#111" stroke-width="1.1"/>
<line x1="274.3" y1="665.5" x2="274.3" y2="669.5" stroke="#111" stroke-width="1.1"/>
<line x1="296.85" y1="665.5" x2="296.85" y2="669.5" stroke="#111" stroke-width="1.1"/>
<line x1="319.4" y1="665.5" x2="319.4" y2="669.5" stroke="#111" stroke-width="1.1"/>
<rect x="221.15" y="612.10" width="6.95" height="53.40" fill="#a03245"/>
<line x1="224.625" y1="612.1" x2="224.625" y2="611.6728" stroke="#7a2233" stroke-width="0.85"/>
<line x1="222.925" y1="611.6728" x2="226.325" y2="611.6728" stroke="#7a2233" stroke-width="0.85"/>
<rect x="230.10" y="607.93" width="6.95" height="57.57" fill="#496285"/>
<line x1="233.575" y1="607.9348" x2="233.575" y2="606.0658" stroke="#33465f" stroke-width="0.85"/>
<line x1="231.875" y1="606.0658" x2="235.27499999999998" y2="606.0658" stroke="#33465f" stroke-width="0.85"/>
<rect x="243.85" y="612.10" width="6.95" height="53.40" fill="#a03245"/>
<line x1="247.325" y1="612.1" x2="247.325" y2="609.697" stroke="#7a2233" stroke-width="0.85"/>
<line x1="245.625" y1="609.697" x2="249.02499999999998" y2="609.697" stroke="#7a2233" stroke-width="0.85"/>
<rect x="252.80" y="605.69" width="6.95" height="59.81" fill="#496285"/>
<line x1="256.275" y1="605.692" x2="256.275" y2="603.022" stroke="#33465f" stroke-width="0.85"/>
<line x1="254.575" y1="603.022" x2="257.97499999999997" y2="603.022" stroke="#33465f" stroke-width="0.85"/>
<rect x="266.55" y="612.10" width="6.95" height="53.40" fill="#a03245"/>
<rect x="275.50" y="608.90" width="6.95" height="56.60" fill="#496285"/>
<rect x="289.25" y="612.10" width="6.95" height="53.40" fill="#a03245"/>
<line x1="292.725" y1="612.1" x2="292.725" y2="611.566" stroke="#7a2233" stroke-width="0.85"/>
<line x1="291.02500000000003" y1="611.566" x2="294.425" y2="611.566" stroke="#7a2233" stroke-width="0.85"/>
<rect x="298.20" y="612.10" width="6.95" height="53.40" fill="#496285"/>
<line x1="301.675" y1="612.1" x2="301.675" y2="610.498" stroke="#33465f" stroke-width="0.85"/>
<line x1="299.975" y1="610.498" x2="303.375" y2="610.498" stroke="#33465f" stroke-width="0.85"/>
<rect x="311.95" y="612.10" width="6.95" height="53.40" fill="#a03245"/>
<line x1="315.425" y1="612.1" x2="315.425" y2="611.566" stroke="#7a2233" stroke-width="0.85"/>
<line x1="313.725" y1="611.566" x2="317.125" y2="611.566" stroke="#7a2233" stroke-width="0.85"/>
<rect x="320.90" y="634.26" width="6.95" height="31.24" fill="#496285"/>
<line x1="324.375" y1="634.261" x2="324.375" y2="633.8338" stroke="#33465f" stroke-width="0.85"/>
<line x1="322.675" y1="633.8338" x2="326.075" y2="633.8338" stroke="#33465f" stroke-width="0.85"/>
<text x="229.5" y="680" font-size="8.6" text-anchor="middle" textLength="13.3" lengthAdjust="spacingAndGlyphs" fill="#1a1718">p57</text>
<text x="252.05" y="680" font-size="8.6" text-anchor="middle" textLength="13.3" lengthAdjust="spacingAndGlyphs" fill="#1a1718">p21</text>
<text x="274.6" y="680" font-size="8.6" text-anchor="middle" textLength="13.3" lengthAdjust="spacingAndGlyphs" fill="#1a1718">p27</text>
<text x="297.15000000000003" y="680" font-size="8.6" text-anchor="middle" textLength="13.3" lengthAdjust="spacingAndGlyphs" fill="#1a1718">p19</text>
<text x="319.7" y="680" font-size="8.6" text-anchor="middle" textLength="13.3" lengthAdjust="spacingAndGlyphs" fill="#1a1718">p18</text>
<line x1="314.5" y1="606.2" x2="324.8" y2="606.2" stroke="#333" stroke-width="1.0"/>
<text x="319.65" y="607.2" font-size="8.6" text-anchor="middle" fill="#333" class="l">***</text>
<text x="191.8" y="624.0" font-size="9" text-anchor="middle" textLength="88.6" lengthAdjust="spacingAndGlyphs" transform="rotate(-90 191.8 624.0)" fill="#1a1718">Relative mRNA level</text>
<rect x="348.50" y="621.00" width="10.00" height="8.00" fill="#a03245"/>
<rect x="348.50" y="630.70" width="10.00" height="8.00" fill="#496285"/>
<text x="361.6" y="627.2" font-size="8.5" textLength="25.5" lengthAdjust="spacingAndGlyphs" fill="#1a1718">Control</text>
<text x="361.6" y="638" font-size="8.5" textLength="63" lengthAdjust="spacingAndGlyphs" fill="#1a1718">Vav-iCre<tspan font-size="4.8" dy="-3.4" class="l" fill="#222">+</tspan><tspan dy="3.4">, NCoR1</tspan><tspan font-size="4.8" dy="-3.4" class="l" fill="#333">f/f</tspan></text>
</g>
<line x1="1" y1="688.4" x2="519" y2="688.4" stroke="#9a9a9a" stroke-width="0.9"/>
<rect x="0.5" y="0.5" width="519" height="689" fill="none" stroke="#000" stroke-width="1.2"/>
</svg></body></html>
